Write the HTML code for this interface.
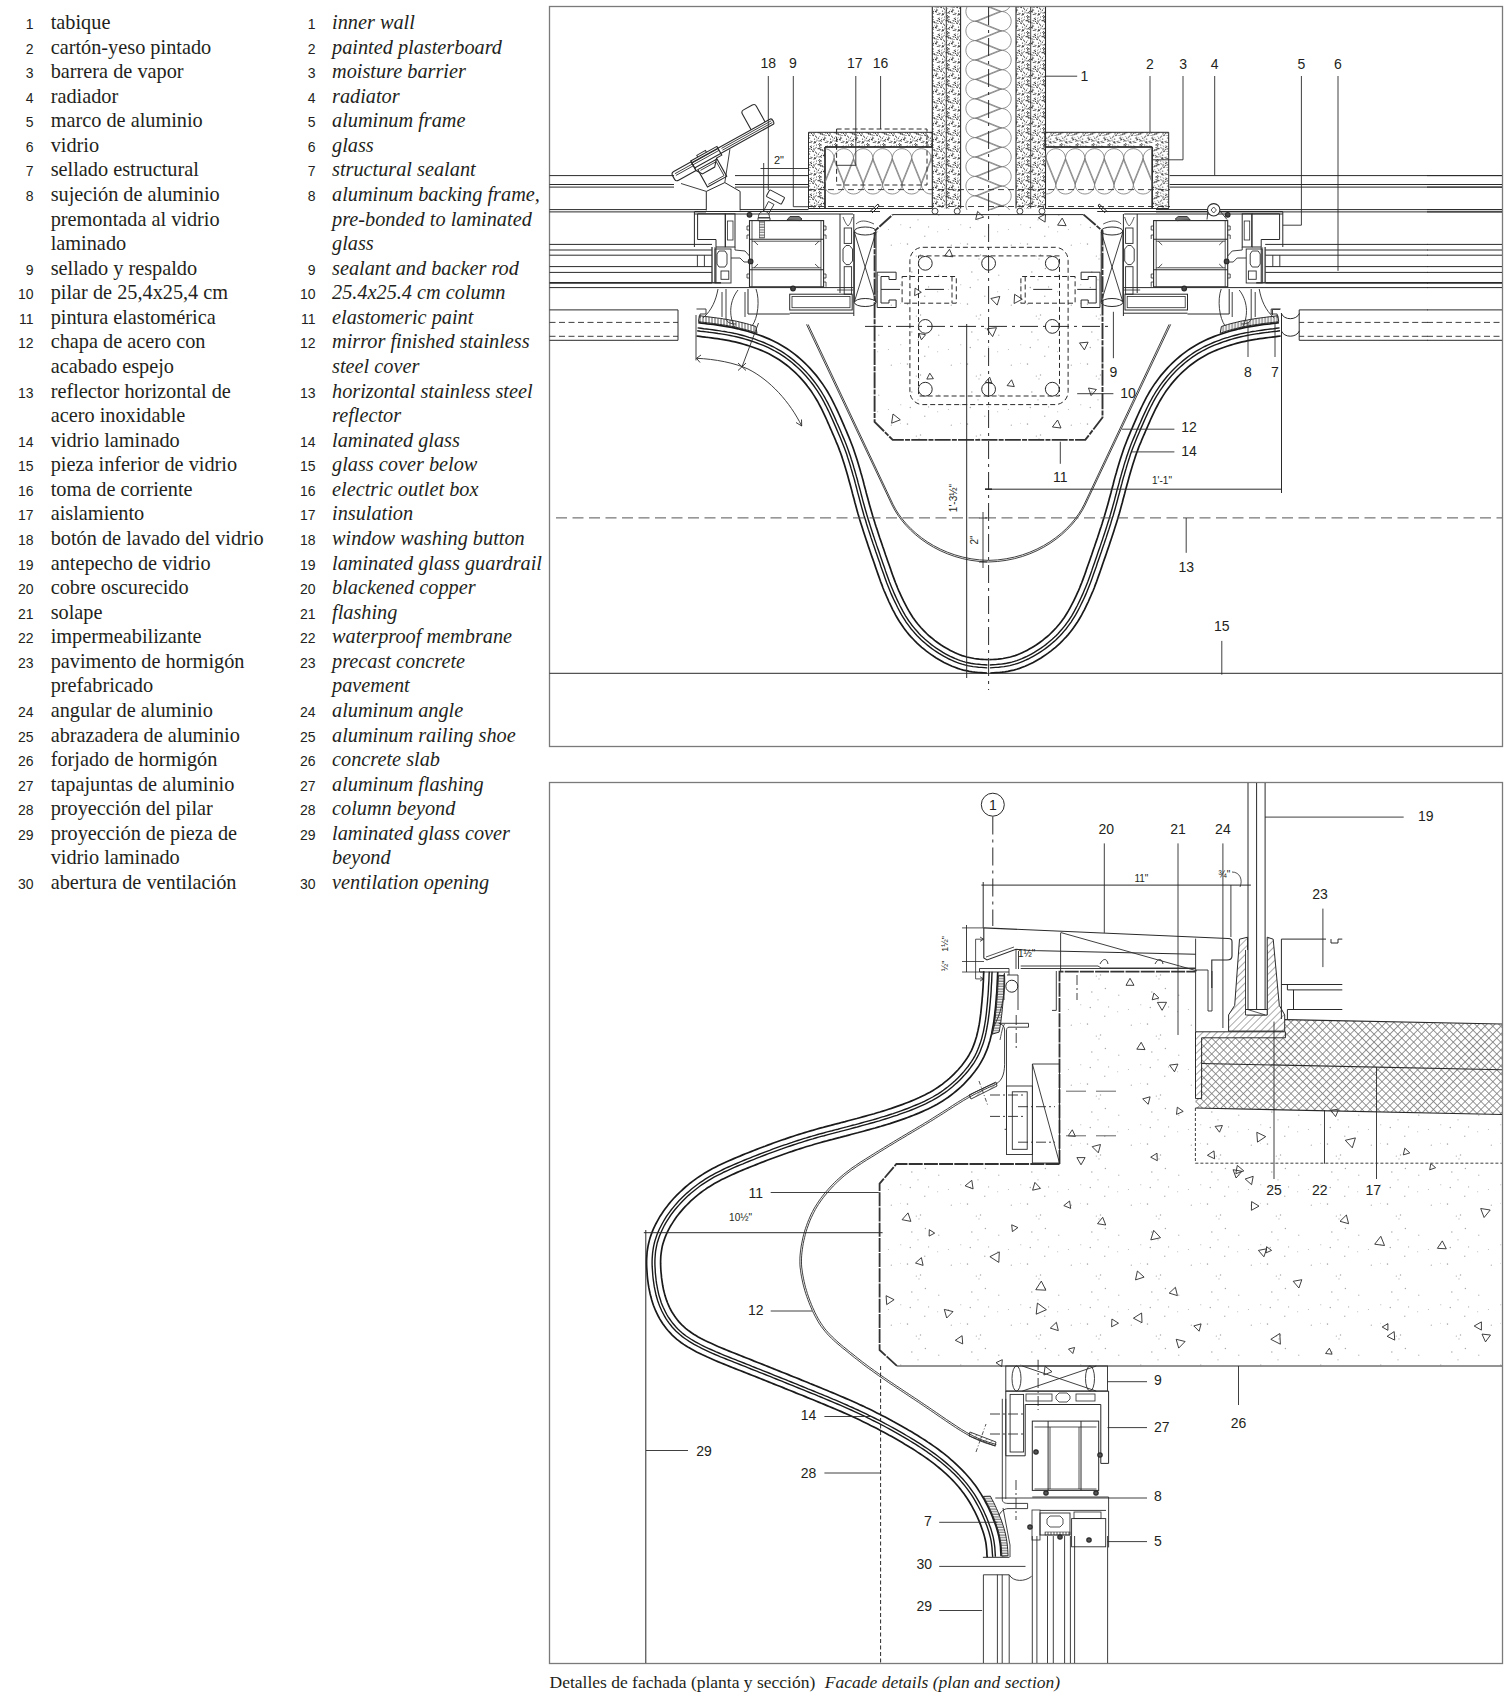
<!DOCTYPE html>
<html><head><meta charset="utf-8"><style>
html,body{margin:0;padding:0;background:#fff;}
svg{display:block}
.lg text.s{font-family:"Liberation Serif",serif;font-size:20.3px;fill:#231f20}
.lg text.i{font-style:italic}
.lg text.n{font-family:"Liberation Sans",sans-serif;font-size:14px;fill:#231f20;text-anchor:end}
.lb{font-family:"Liberation Sans",sans-serif;fill:#231f20}
.cap{font-family:"Liberation Serif",serif;font-size:17.5px;fill:#231f20}
</style></head>
<body><svg width="1512" height="1702" viewBox="0 0 1512 1702">
<defs>
<pattern id="stip" width="16" height="16" patternUnits="userSpaceOnUse"><circle cx="3.8" cy="8.7" r="0.48" fill="#333"/><circle cx="9.7" cy="10.0" r="0.37" fill="#333"/><circle cx="0.2" cy="13.4" r="0.44" fill="#333"/><circle cx="3.7" cy="15.9" r="0.51" fill="#333"/><circle cx="13.4" cy="7.6" r="0.57" fill="#333"/><circle cx="2.4" cy="10.2" r="0.65" fill="#333"/><circle cx="8.4" cy="11.9" r="0.58" fill="#333"/><circle cx="1.0" cy="12.1" r="0.56" fill="#333"/><circle cx="4.8" cy="0.5" r="0.65" fill="#333"/><circle cx="7.6" cy="11.5" r="0.66" fill="#333"/><circle cx="11.4" cy="14.7" r="0.49" fill="#333"/><circle cx="12.8" cy="7.1" r="0.68" fill="#333"/><circle cx="14.1" cy="1.6" r="0.40" fill="#333"/><circle cx="3.5" cy="15.4" r="0.50" fill="#333"/><circle cx="10.0" cy="4.8" r="0.53" fill="#333"/><circle cx="6.2" cy="5.6" r="0.55" fill="#333"/><circle cx="9.3" cy="14.5" r="0.59" fill="#333"/><circle cx="14.9" cy="13.7" r="0.70" fill="#333"/><circle cx="10.7" cy="2.6" r="0.65" fill="#333"/><circle cx="15.4" cy="14.5" r="0.55" fill="#333"/><circle cx="11.4" cy="3.4" r="0.64" fill="#333"/><circle cx="9.2" cy="4.6" r="0.37" fill="#333"/><circle cx="13.7" cy="15.8" r="0.38" fill="#333"/><circle cx="12.8" cy="6.6" r="0.40" fill="#333"/><circle cx="4.7" cy="12.3" r="0.66" fill="#333"/><circle cx="0.7" cy="9.8" r="0.37" fill="#333"/><circle cx="11.5" cy="5.3" r="0.66" fill="#333"/><circle cx="15.7" cy="8.1" r="0.70" fill="#333"/><circle cx="5.0" cy="1.2" r="0.56" fill="#333"/><circle cx="0.5" cy="3.2" r="0.49" fill="#333"/><circle cx="9.8" cy="2.5" r="0.36" fill="#333"/><circle cx="13.9" cy="5.0" r="0.69" fill="#333"/><circle cx="14.3" cy="6.0" r="0.51" fill="#333"/><circle cx="8.3" cy="10.3" r="0.56" fill="#333"/><circle cx="8.9" cy="9.9" r="0.68" fill="#333"/><circle cx="8.1" cy="6.9" r="0.60" fill="#333"/><circle cx="3.8" cy="4.8" r="0.69" fill="#333"/><circle cx="8.3" cy="8.8" r="0.35" fill="#333"/><circle cx="6.6" cy="9.3" r="0.36" fill="#333"/><circle cx="9.9" cy="10.1" r="0.37" fill="#333"/><circle cx="10.0" cy="7.5" r="0.59" fill="#333"/><circle cx="5.6" cy="11.3" r="0.61" fill="#333"/><circle cx="0.4" cy="1.0" r="0.59" fill="#333"/><circle cx="15.4" cy="4.0" r="0.51" fill="#333"/><circle cx="9.5" cy="5.1" r="0.48" fill="#333"/><circle cx="5.0" cy="5.9" r="0.56" fill="#333"/><circle cx="4.8" cy="6.0" r="0.62" fill="#333"/><circle cx="0.4" cy="9.1" r="0.61" fill="#333"/><circle cx="5.0" cy="3.6" r="0.63" fill="#333"/><circle cx="3.8" cy="3.0" r="0.50" fill="#333"/><circle cx="11.2" cy="1.6" r="0.46" fill="#333"/><circle cx="5.3" cy="13.3" r="0.50" fill="#333"/><circle cx="13.7" cy="2.7" r="0.47" fill="#333"/><circle cx="10.4" cy="14.2" r="0.51" fill="#333"/><circle cx="3.6" cy="1.9" r="0.54" fill="#333"/><circle cx="3.1" cy="12.9" r="0.64" fill="#333"/><circle cx="2.9" cy="4.5" r="0.63" fill="#333"/><circle cx="10.3" cy="12.9" r="0.47" fill="#333"/><circle cx="2.1" cy="4.7" r="0.63" fill="#333"/><circle cx="4.3" cy="5.5" r="0.50" fill="#333"/><circle cx="6.7" cy="6.6" r="0.67" fill="#333"/><circle cx="2.5" cy="0.1" r="0.68" fill="#333"/><circle cx="14.1" cy="15.8" r="0.50" fill="#333"/><circle cx="15.2" cy="14.8" r="0.43" fill="#333"/><circle cx="11.9" cy="13.4" r="0.58" fill="#333"/><circle cx="8.3" cy="4.6" r="0.47" fill="#333"/><circle cx="3.6" cy="1.1" r="0.56" fill="#333"/><circle cx="4.6" cy="13.0" r="0.37" fill="#333"/><circle cx="14.5" cy="11.1" r="0.67" fill="#333"/><circle cx="14.3" cy="14.4" r="0.55" fill="#333"/></pattern>
<pattern id="spar" width="60" height="60" patternUnits="userSpaceOnUse"><circle cx="0.8" cy="44.7" r="0.55" fill="#aaa"/><circle cx="18.0" cy="39.8" r="0.66" fill="#aaa"/><circle cx="24.8" cy="56.3" r="0.68" fill="#aaa"/><circle cx="20.5" cy="15.1" r="0.76" fill="#aaa"/><circle cx="28.6" cy="46.9" r="0.61" fill="#aaa"/><circle cx="11.8" cy="32.1" r="0.75" fill="#aaa"/><circle cx="10.3" cy="47.5" r="0.78" fill="#aaa"/><circle cx="48.4" cy="49.4" r="0.50" fill="#aaa"/><circle cx="37.7" cy="51.8" r="0.51" fill="#aaa"/><circle cx="16.3" cy="16.1" r="0.66" fill="#aaa"/><circle cx="25.4" cy="28.4" r="0.73" fill="#aaa"/><circle cx="0.1" cy="3.3" r="0.54" fill="#aaa"/><circle cx="7.5" cy="4.1" r="0.79" fill="#aaa"/><circle cx="51.3" cy="5.2" r="0.65" fill="#aaa"/><circle cx="19.0" cy="18.9" r="0.61" fill="#aaa"/><circle cx="38.8" cy="35.2" r="0.61" fill="#aaa"/></pattern>
<pattern id="xh" width="5.6" height="5.6" patternUnits="userSpaceOnUse" patternTransform="rotate(45)"><path d="M0 0.4H5.6M0.4 0V5.6" stroke="#7a7a7a" stroke-width="0.85"/></pattern>
<pattern id="dh" width="5" height="5" patternUnits="userSpaceOnUse" patternTransform="rotate(45)"><path d="M0 0L0 5" stroke="#444" stroke-width="0.9"/></pattern>
<pattern id="vh" width="3" height="6" patternUnits="userSpaceOnUse"><path d="M1 0L1 6" stroke="#444" stroke-width="0.9"/></pattern>
<pattern id="hh" width="6" height="2.6" patternUnits="userSpaceOnUse"><path d="M0 1L6 1" stroke="#444" stroke-width="0.9"/></pattern>
</defs>
<g class="lg">
<text class="n" x="33.5" y="29.00">1</text>
<text class="s" x="50.7" y="29.00">tabique</text>
<text class="n" x="315.5" y="29.00">1</text>
<text class="s i" x="332" y="29.00">inner wall</text>
<text class="n" x="33.5" y="53.57">2</text>
<text class="s" x="50.7" y="53.57">cartón-yeso pintado</text>
<text class="n" x="315.5" y="53.57">2</text>
<text class="s i" x="332" y="53.57">painted plasterboard</text>
<text class="n" x="33.5" y="78.14">3</text>
<text class="s" x="50.7" y="78.14">barrera de vapor</text>
<text class="n" x="315.5" y="78.14">3</text>
<text class="s i" x="332" y="78.14">moisture barrier</text>
<text class="n" x="33.5" y="102.71">4</text>
<text class="s" x="50.7" y="102.71">radiador</text>
<text class="n" x="315.5" y="102.71">4</text>
<text class="s i" x="332" y="102.71">radiator</text>
<text class="n" x="33.5" y="127.28">5</text>
<text class="s" x="50.7" y="127.28">marco de aluminio</text>
<text class="n" x="315.5" y="127.28">5</text>
<text class="s i" x="332" y="127.28">aluminum frame</text>
<text class="n" x="33.5" y="151.85">6</text>
<text class="s" x="50.7" y="151.85">vidrio</text>
<text class="n" x="315.5" y="151.85">6</text>
<text class="s i" x="332" y="151.85">glass</text>
<text class="n" x="33.5" y="176.42">7</text>
<text class="s" x="50.7" y="176.42">sellado estructural</text>
<text class="n" x="315.5" y="176.42">7</text>
<text class="s i" x="332" y="176.42">structural sealant</text>
<text class="n" x="33.5" y="200.99">8</text>
<text class="s" x="50.7" y="200.99">sujeción de aluminio</text>
<text class="n" x="315.5" y="200.99">8</text>
<text class="s i" x="332" y="200.99">aluminum backing frame,</text>
<text class="s" x="50.7" y="225.56">premontada al vidrio</text>
<text class="s i" x="332" y="225.56">pre-bonded to laminated</text>
<text class="s" x="50.7" y="250.13">laminado</text>
<text class="s i" x="332" y="250.13">glass</text>
<text class="n" x="33.5" y="274.70">9</text>
<text class="s" x="50.7" y="274.70">sellado y respaldo</text>
<text class="n" x="315.5" y="274.70">9</text>
<text class="s i" x="332" y="274.70">sealant and backer rod</text>
<text class="n" x="33.5" y="299.27">10</text>
<text class="s" x="50.7" y="299.27">pilar de 25,4x25,4 cm</text>
<text class="n" x="315.5" y="299.27">10</text>
<text class="s i" x="332" y="299.27">25.4x25.4 cm column</text>
<text class="n" x="33.5" y="323.84">11</text>
<text class="s" x="50.7" y="323.84">pintura elastomérica</text>
<text class="n" x="315.5" y="323.84">11</text>
<text class="s i" x="332" y="323.84">elastomeric paint</text>
<text class="n" x="33.5" y="348.41">12</text>
<text class="s" x="50.7" y="348.41">chapa de acero con</text>
<text class="n" x="315.5" y="348.41">12</text>
<text class="s i" x="332" y="348.41">mirror finished stainless</text>
<text class="s" x="50.7" y="372.98">acabado espejo</text>
<text class="s i" x="332" y="372.98">steel cover</text>
<text class="n" x="33.5" y="397.55">13</text>
<text class="s" x="50.7" y="397.55">reflector horizontal de</text>
<text class="n" x="315.5" y="397.55">13</text>
<text class="s i" x="332" y="397.55">horizontal stainless steel</text>
<text class="s" x="50.7" y="422.12">acero inoxidable</text>
<text class="s i" x="332" y="422.12">reflector</text>
<text class="n" x="33.5" y="446.69">14</text>
<text class="s" x="50.7" y="446.69">vidrio laminado</text>
<text class="n" x="315.5" y="446.69">14</text>
<text class="s i" x="332" y="446.69">laminated glass</text>
<text class="n" x="33.5" y="471.26">15</text>
<text class="s" x="50.7" y="471.26">pieza inferior de vidrio</text>
<text class="n" x="315.5" y="471.26">15</text>
<text class="s i" x="332" y="471.26">glass cover below</text>
<text class="n" x="33.5" y="495.83">16</text>
<text class="s" x="50.7" y="495.83">toma de corriente</text>
<text class="n" x="315.5" y="495.83">16</text>
<text class="s i" x="332" y="495.83">electric outlet box</text>
<text class="n" x="33.5" y="520.40">17</text>
<text class="s" x="50.7" y="520.40">aislamiento</text>
<text class="n" x="315.5" y="520.40">17</text>
<text class="s i" x="332" y="520.40">insulation</text>
<text class="n" x="33.5" y="544.97">18</text>
<text class="s" x="50.7" y="544.97">botón de lavado del vidrio</text>
<text class="n" x="315.5" y="544.97">18</text>
<text class="s i" x="332" y="544.97">window washing button</text>
<text class="n" x="33.5" y="569.54">19</text>
<text class="s" x="50.7" y="569.54">antepecho de vidrio</text>
<text class="n" x="315.5" y="569.54">19</text>
<text class="s i" x="332" y="569.54">laminated glass guardrail</text>
<text class="n" x="33.5" y="594.11">20</text>
<text class="s" x="50.7" y="594.11">cobre oscurecido</text>
<text class="n" x="315.5" y="594.11">20</text>
<text class="s i" x="332" y="594.11">blackened copper</text>
<text class="n" x="33.5" y="618.68">21</text>
<text class="s" x="50.7" y="618.68">solape</text>
<text class="n" x="315.5" y="618.68">21</text>
<text class="s i" x="332" y="618.68">flashing</text>
<text class="n" x="33.5" y="643.25">22</text>
<text class="s" x="50.7" y="643.25">impermeabilizante</text>
<text class="n" x="315.5" y="643.25">22</text>
<text class="s i" x="332" y="643.25">waterproof membrane</text>
<text class="n" x="33.5" y="667.82">23</text>
<text class="s" x="50.7" y="667.82">pavimento de hormigón</text>
<text class="n" x="315.5" y="667.82">23</text>
<text class="s i" x="332" y="667.82">precast concrete</text>
<text class="s" x="50.7" y="692.39">prefabricado</text>
<text class="s i" x="332" y="692.39">pavement</text>
<text class="n" x="33.5" y="716.96">24</text>
<text class="s" x="50.7" y="716.96">angular de aluminio</text>
<text class="n" x="315.5" y="716.96">24</text>
<text class="s i" x="332" y="716.96">aluminum angle</text>
<text class="n" x="33.5" y="741.53">25</text>
<text class="s" x="50.7" y="741.53">abrazadera de aluminio</text>
<text class="n" x="315.5" y="741.53">25</text>
<text class="s i" x="332" y="741.53">aluminum railing shoe</text>
<text class="n" x="33.5" y="766.10">26</text>
<text class="s" x="50.7" y="766.10">forjado de hormigón</text>
<text class="n" x="315.5" y="766.10">26</text>
<text class="s i" x="332" y="766.10">concrete slab</text>
<text class="n" x="33.5" y="790.67">27</text>
<text class="s" x="50.7" y="790.67">tapajuntas de aluminio</text>
<text class="n" x="315.5" y="790.67">27</text>
<text class="s i" x="332" y="790.67">aluminum flashing</text>
<text class="n" x="33.5" y="815.24">28</text>
<text class="s" x="50.7" y="815.24">proyección del pilar</text>
<text class="n" x="315.5" y="815.24">28</text>
<text class="s i" x="332" y="815.24">column beyond</text>
<text class="n" x="33.5" y="839.81">29</text>
<text class="s" x="50.7" y="839.81">proyección de pieza de</text>
<text class="n" x="315.5" y="839.81">29</text>
<text class="s i" x="332" y="839.81">laminated glass cover</text>
<text class="s" x="50.7" y="864.38">vidrio laminado</text>
<text class="s i" x="332" y="864.38">beyond</text>
<text class="n" x="33.5" y="888.95">30</text>
<text class="s" x="50.7" y="888.95">abertura de ventilación</text>
<text class="n" x="315.5" y="888.95">30</text>
<text class="s i" x="332" y="888.95">ventilation opening</text>
</g>
<rect x="549.5" y="6.5" width="953" height="740" fill="none" stroke="#7a7a7a" stroke-width="1.3"/><rect x="549.5" y="782.5" width="953" height="881" fill="none" stroke="#7a7a7a" stroke-width="1.3"/><text class="cap" x="549.5" y="1687.6">Detalles de fachada (planta y sección)<tspan font-style="italic" dx="9.6">Facade details (plan and section)</tspan></text><clipPath id="cw"><rect x="932" y="7" width="114" height="203"/></clipPath><rect x="932.3" y="7" width="28.3" height="201.5" fill="url(#stip)"/><rect x="1016" y="7" width="29.5" height="201.5" fill="url(#stip)"/><line x1="932.3" y1="7.0" x2="932.3" y2="208.5" stroke="#2a2a2a" stroke-width="1.1"/><line x1="946.3" y1="7.0" x2="946.3" y2="208.5" stroke="#2a2a2a" stroke-width="0.9"/><line x1="960.6" y1="7.0" x2="960.6" y2="208.5" stroke="#2a2a2a" stroke-width="1.1"/><line x1="1016.0" y1="7.0" x2="1016.0" y2="208.5" stroke="#2a2a2a" stroke-width="1.1"/><line x1="1030.7" y1="7.0" x2="1030.7" y2="208.5" stroke="#2a2a2a" stroke-width="0.9"/><line x1="1045.5" y1="7.0" x2="1045.5" y2="208.5" stroke="#2a2a2a" stroke-width="1.1"/><g clip-path="url(#cw)"><path d="M1001.5 -7.9L979.2 -16.9A9.7 9.7 0 1 0 979.2 1.1ZM975.6 1.8L997.9 10.8A9.7 9.7 0 1 0 997.9 -7.2ZM1001.5 11.5L979.2 2.5A9.7 9.7 0 1 0 979.2 20.5ZM975.6 21.2L997.9 30.2A9.7 9.7 0 1 0 997.9 12.2ZM1001.5 30.9L979.2 21.9A9.7 9.7 0 1 0 979.2 39.9ZM975.6 40.6L997.9 49.6A9.7 9.7 0 1 0 997.9 31.6ZM1001.5 50.3L979.2 41.3A9.7 9.7 0 1 0 979.2 59.3ZM975.6 60.0L997.9 69.0A9.7 9.7 0 1 0 997.9 51.0ZM1001.5 69.7L979.2 60.7A9.7 9.7 0 1 0 979.2 78.7ZM975.6 79.4L997.9 88.4A9.7 9.7 0 1 0 997.9 70.4ZM1001.5 89.1L979.2 80.1A9.7 9.7 0 1 0 979.2 98.1ZM975.6 98.8L997.9 107.8A9.7 9.7 0 1 0 997.9 89.8ZM1001.5 108.5L979.2 99.5A9.7 9.7 0 1 0 979.2 117.5ZM975.6 118.2L997.9 127.2A9.7 9.7 0 1 0 997.9 109.2ZM1001.5 127.9L979.2 118.9A9.7 9.7 0 1 0 979.2 136.9ZM975.6 137.6L997.9 146.6A9.7 9.7 0 1 0 997.9 128.6ZM1001.5 147.3L979.2 138.3A9.7 9.7 0 1 0 979.2 156.3ZM975.6 157.0L997.9 166.0A9.7 9.7 0 1 0 997.9 148.0ZM1001.5 166.7L979.2 157.7A9.7 9.7 0 1 0 979.2 175.7ZM975.6 176.4L997.9 185.4A9.7 9.7 0 1 0 997.9 167.4ZM1001.5 186.1L979.2 177.1A9.7 9.7 0 1 0 979.2 195.1ZM975.6 195.8L997.9 204.8A9.7 9.7 0 1 0 997.9 186.8ZM1001.5 205.5L979.2 196.5A9.7 9.7 0 1 0 979.2 214.5ZM975.6 215.2L997.9 224.2A9.7 9.7 0 1 0 997.9 206.2ZM1001.5 224.9L979.2 215.9A9.7 9.7 0 1 0 979.2 233.9ZM975.6 234.6L997.9 243.6A9.7 9.7 0 1 0 997.9 225.6Z" fill="none" stroke="#777" stroke-width="0.8"/></g><circle cx="935.0" cy="211.2" r="3" fill="none" stroke="#2a2a2a" stroke-width="0.9"/><circle cx="957.2" cy="211.2" r="3" fill="none" stroke="#2a2a2a" stroke-width="0.9"/><circle cx="1019.9" cy="211.2" r="3" fill="none" stroke="#2a2a2a" stroke-width="0.9"/><circle cx="1042.0" cy="211.2" r="3" fill="none" stroke="#2a2a2a" stroke-width="0.9"/><path d="M808.5 132.3H932.3V147H825V208.5H808.5Z" fill="url(#stip)" stroke="#2a2a2a" stroke-width="1"/><line x1="825.0" y1="147.0" x2="932.3" y2="147.0" stroke="#2a2a2a" stroke-width="1.4"/><line x1="825.0" y1="147.0" x2="825.0" y2="208.5" stroke="#2a2a2a" stroke-width="1.4"/><clipPath id="ci0"><rect x="825" y="147" width="107" height="62"/></clipPath><g clip-path="url(#ci0)"><path d="M824.4 184.3L815.4 162.0A9.7 9.7 0 1 1 833.4 162.0ZM834.1 158.4L843.1 180.7A9.7 9.7 0 1 1 825.1 180.7ZM843.8 184.3L834.8 162.0A9.7 9.7 0 1 1 852.8 162.0ZM853.5 158.4L862.5 180.7A9.7 9.7 0 1 1 844.5 180.7ZM863.2 184.3L854.2 162.0A9.7 9.7 0 1 1 872.2 162.0ZM872.9 158.4L881.9 180.7A9.7 9.7 0 1 1 863.9 180.7ZM882.6 184.3L873.6 162.0A9.7 9.7 0 1 1 891.6 162.0ZM892.3 158.4L901.3 180.7A9.7 9.7 0 1 1 883.3 180.7ZM902.0 184.3L893.0 162.0A9.7 9.7 0 1 1 911.0 162.0ZM911.7 158.4L920.7 180.7A9.7 9.7 0 1 1 902.7 180.7ZM921.4 184.3L912.4 162.0A9.7 9.7 0 1 1 930.4 162.0ZM931.1 158.4L940.1 180.7A9.7 9.7 0 1 1 922.1 180.7ZM940.8 184.3L931.8 162.0A9.7 9.7 0 1 1 949.8 162.0ZM950.5 158.4L959.5 180.7A9.7 9.7 0 1 1 941.5 180.7Z" fill="none" stroke="#777" stroke-width="0.8"/></g><line x1="808.5" y1="208.5" x2="932.3" y2="208.5" stroke="#2a2a2a" stroke-width="1"/><g transform="translate(1977.2,0) scale(-1,1)"><path d="M808.5 132.3H932.3V147H825V208.5H808.5Z" fill="url(#stip)" stroke="#2a2a2a" stroke-width="1"/><line x1="825.0" y1="147.0" x2="932.3" y2="147.0" stroke="#2a2a2a" stroke-width="1.4"/><line x1="825.0" y1="147.0" x2="825.0" y2="208.5" stroke="#2a2a2a" stroke-width="1.4"/><clipPath id="ci1"><rect x="825" y="147" width="107" height="62"/></clipPath><g clip-path="url(#ci1)"><path d="M824.4 184.3L815.4 162.0A9.7 9.7 0 1 1 833.4 162.0ZM834.1 158.4L843.1 180.7A9.7 9.7 0 1 1 825.1 180.7ZM843.8 184.3L834.8 162.0A9.7 9.7 0 1 1 852.8 162.0ZM853.5 158.4L862.5 180.7A9.7 9.7 0 1 1 844.5 180.7ZM863.2 184.3L854.2 162.0A9.7 9.7 0 1 1 872.2 162.0ZM872.9 158.4L881.9 180.7A9.7 9.7 0 1 1 863.9 180.7ZM882.6 184.3L873.6 162.0A9.7 9.7 0 1 1 891.6 162.0ZM892.3 158.4L901.3 180.7A9.7 9.7 0 1 1 883.3 180.7ZM902.0 184.3L893.0 162.0A9.7 9.7 0 1 1 911.0 162.0ZM911.7 158.4L920.7 180.7A9.7 9.7 0 1 1 902.7 180.7ZM921.4 184.3L912.4 162.0A9.7 9.7 0 1 1 930.4 162.0ZM931.1 158.4L940.1 180.7A9.7 9.7 0 1 1 922.1 180.7ZM940.8 184.3L931.8 162.0A9.7 9.7 0 1 1 949.8 162.0ZM950.5 158.4L959.5 180.7A9.7 9.7 0 1 1 941.5 180.7Z" fill="none" stroke="#777" stroke-width="0.8"/></g><line x1="808.5" y1="208.5" x2="932.3" y2="208.5" stroke="#2a2a2a" stroke-width="1"/></g><rect x="836.6" y="129.0" width="90.4" height="56.0" fill="none" stroke="#2a2a2a" stroke-width="1" stroke-dasharray="5 3"/><line x1="808.0" y1="189.6" x2="1170.0" y2="189.6" stroke="#2a2a2a" stroke-width="0.9" stroke-dasharray="6 4"/><line x1="808.0" y1="206.5" x2="1170.0" y2="206.5" stroke="#2a2a2a" stroke-width="0.9" stroke-dasharray="6 4"/><line x1="549.5" y1="175.6" x2="674.0" y2="175.6" stroke="#2a2a2a" stroke-width="1"/><line x1="735.0" y1="175.6" x2="808.5" y2="175.6" stroke="#2a2a2a" stroke-width="1"/><line x1="1169.6" y1="175.6" x2="1502.0" y2="175.6" stroke="#2a2a2a" stroke-width="1"/><line x1="549.5" y1="184.5" x2="674.0" y2="184.5" stroke="#2a2a2a" stroke-width="1"/><line x1="735.0" y1="184.5" x2="808.5" y2="184.5" stroke="#2a2a2a" stroke-width="1"/><line x1="1169.6" y1="184.5" x2="1502.0" y2="184.5" stroke="#2a2a2a" stroke-width="1"/><line x1="549.5" y1="187.1" x2="674.0" y2="187.1" stroke="#2a2a2a" stroke-width="1"/><line x1="735.0" y1="187.1" x2="808.5" y2="187.1" stroke="#2a2a2a" stroke-width="1"/><line x1="1169.6" y1="187.1" x2="1502.0" y2="187.1" stroke="#2a2a2a" stroke-width="1"/><line x1="549.5" y1="209.6" x2="706.0" y2="209.6" stroke="#2a2a2a" stroke-width="1"/><line x1="740.0" y1="209.6" x2="808.5" y2="209.6" stroke="#2a2a2a" stroke-width="1"/><line x1="1156.0" y1="209.6" x2="1502.0" y2="209.6" stroke="#2a2a2a" stroke-width="1"/><line x1="549.5" y1="211.9" x2="706.0" y2="211.9" stroke="#2a2a2a" stroke-width="1"/><line x1="1156.0" y1="211.9" x2="1502.0" y2="211.9" stroke="#2a2a2a" stroke-width="1"/><line x1="549.5" y1="244.4" x2="712.0" y2="244.4" stroke="#2a2a2a" stroke-width="1"/><line x1="549.5" y1="250.0" x2="712.0" y2="250.0" stroke="#2a2a2a" stroke-width="1"/><line x1="549.5" y1="255.2" x2="712.0" y2="255.2" stroke="#2a2a2a" stroke-width="1"/><line x1="549.5" y1="266.6" x2="712.0" y2="266.6" stroke="#2a2a2a" stroke-width="1"/><line x1="549.5" y1="272.4" x2="712.0" y2="272.4" stroke="#2a2a2a" stroke-width="1"/><line x1="549.5" y1="282.8" x2="712.0" y2="282.8" stroke="#2a2a2a" stroke-width="1.8"/><line x1="549.5" y1="287.6" x2="853.4" y2="287.6" stroke="#2a2a2a" stroke-width="1"/><path d="M549.5 309.9H678V340.3H549.5" fill="none" stroke="#2a2a2a" stroke-width="1" /><line x1="549.5" y1="322.4" x2="678.0" y2="322.4" stroke="#2a2a2a" stroke-width="0.9" stroke-dasharray="6 3.5"/><line x1="549.5" y1="336.3" x2="678.0" y2="336.3" stroke="#2a2a2a" stroke-width="0.9" stroke-dasharray="6 3.5"/><line x1="694.4" y1="211.5" x2="880.0" y2="211.5" stroke="#2a2a2a" stroke-width="1"/><line x1="694.4" y1="214.0" x2="853.0" y2="214.0" stroke="#2a2a2a" stroke-width="1"/><path d="M870 211.5L878 204L879 206L872 213" fill="none" stroke="#2a2a2a" stroke-width="1" /><line x1="694.4" y1="212.0" x2="694.4" y2="247.0" stroke="#2a2a2a" stroke-width="1"/><path d="M697.6 213.8H725.3V247H716V239.5H697.6Z" fill="none" stroke="#2a2a2a" stroke-width="1" /><rect x="725.3" y="213.8" width="9.7" height="33.2" fill="none" stroke="#2a2a2a" stroke-width="1"/><rect x="727.5" y="221.0" width="5.5" height="19.0" fill="none" stroke="#2a2a2a" stroke-width="0.8"/><path d="M716 247V283 M712 247V283" fill="none" stroke="#2a2a2a" stroke-width="0.9" /><rect x="711" y="247" width="5" height="35" fill="url(#vh)" stroke="none"/><path d="M717 254L719 251H725L727 254V264L725 267H719L717 264Z" fill="none" stroke="#2a2a2a" stroke-width="0.9" /><rect x="715.0" y="249.0" width="16.0" height="34.0" fill="none" stroke="#2a2a2a" stroke-width="0.9"/><rect x="721.0" y="271.0" width="7.8" height="8.3" fill="none" stroke="#2a2a2a" stroke-width="0.9"/><line x1="697.4" y1="255.2" x2="697.4" y2="266.6" stroke="#2a2a2a" stroke-width="0.9"/><line x1="704.4" y1="255.2" x2="704.4" y2="266.6" stroke="#2a2a2a" stroke-width="0.9"/><line x1="712.0" y1="282.8" x2="721.0" y2="282.8" stroke="#2a2a2a" stroke-width="1.4"/><path d="M735 247V250L745 251L749.5 256" fill="none" stroke="#2a2a2a" stroke-width="0.9" /><path d="M731 258H740L744 262L749.5 262" fill="none" stroke="#2a2a2a" stroke-width="0.9" /><rect x="749.5" y="220.6" width="74.1" height="66.2" fill="none" stroke="#2a2a2a" stroke-width="1.1"/><line x1="749.5" y1="239.2" x2="823.6" y2="239.2" stroke="#2a2a2a" stroke-width="1.1"/><line x1="752.0" y1="241.2" x2="821.0" y2="241.2" stroke="#2a2a2a" stroke-width="0.8"/><line x1="749.5" y1="269.8" x2="823.6" y2="269.8" stroke="#2a2a2a" stroke-width="1.1"/><line x1="752.0" y1="267.8" x2="821.0" y2="267.8" stroke="#2a2a2a" stroke-width="0.8"/><line x1="752.0" y1="220.6" x2="752.0" y2="286.8" stroke="#2a2a2a" stroke-width="0.8"/><line x1="821.0" y1="220.6" x2="821.0" y2="286.8" stroke="#2a2a2a" stroke-width="0.8"/><path d="M749.5 226H747V230H749.5M749.5 235H747V239M823.6 226H826V230H823.6M823.6 235H826V239" fill="none" stroke="#2a2a2a" stroke-width="0.8" /><path d="M749.5 274H747V278H749.5M823.6 274H826V278H823.6M823.6 282H826V286.8" fill="none" stroke="#2a2a2a" stroke-width="0.8" /><path d="M754 241.2L758 245M819 241.2L815 245M754 267.8L758 264M819 267.8L815 264" fill="none" stroke="#2a2a2a" stroke-width="0.8" /><circle cx="749.5" cy="214.8" r="2.3" fill="#444" stroke="#2a2a2a" stroke-width="1.2"/><circle cx="750.6" cy="261.4" r="2.3" fill="#444" stroke="#2a2a2a" stroke-width="1.2"/><circle cx="793.0" cy="288.5" r="2.3" fill="#444" stroke="#2a2a2a" stroke-width="1.2"/><path d="M787 220L790 216.5H799L802 219L800 220.6Z" fill="#777" stroke="#2a2a2a" stroke-width="0.9" /><line x1="840.0" y1="214.0" x2="840.0" y2="293.0" stroke="#2a2a2a" stroke-width="1"/><line x1="853.8" y1="214.0" x2="853.8" y2="316.0" stroke="#2a2a2a" stroke-width="1"/><rect x="844.2" y="228.0" width="7.4" height="15.4" fill="none" stroke="#2a2a2a" stroke-width="0.9"/><path d="M843 249L846 245.5H849.5L852.5 249V261L849.5 264.6H846L843 261Z" fill="none" stroke="#2a2a2a" stroke-width="0.9" /><rect x="844.2" y="266.7" width="7.4" height="27.5" fill="none" stroke="#2a2a2a" stroke-width="0.9"/><path d="M843 217C845 222 846 224 848 226C850 224 851 222 852.5 217" fill="none" stroke="#2a2a2a" stroke-width="0.8" /><rect x="789.7" y="294.2" width="62.5" height="15.8" fill="none" stroke="#2a2a2a" stroke-width="1"/><rect x="792.0" y="296.5" width="58.0" height="11.2" fill="none" stroke="#2a2a2a" stroke-width="0.8"/><line x1="789.7" y1="313.2" x2="853.8" y2="313.2" stroke="#2a2a2a" stroke-width="1"/><path d="M748 289V314H789.7" fill="none" stroke="#2a2a2a" stroke-width="1" /><path d="M745 292V317" fill="none" stroke="#2a2a2a" stroke-width="0.9" /><line x1="837.0" y1="290.0" x2="853.0" y2="290.0" stroke="#2a2a2a" stroke-width="0.8"/><rect x="854.3" y="232.0" width="21.7" height="70.0" fill="none" stroke="#2a2a2a" stroke-width="1"/><line x1="854.3" y1="232.0" x2="876.0" y2="302.0" stroke="#2a2a2a" stroke-width="0.9"/><line x1="876.0" y1="232.0" x2="854.3" y2="302.0" stroke="#2a2a2a" stroke-width="0.9"/><ellipse cx="865.2" cy="231" rx="10.8" ry="4" fill="#fff" stroke="#2a2a2a" stroke-width="1"/><ellipse cx="865.2" cy="302.5" rx="10.8" ry="4" fill="#fff" stroke="#2a2a2a" stroke-width="1"/><path d="M856 224C860 220 866 220 874 224" fill="none" stroke="#2a2a2a" stroke-width="0.8" /><path d="M718 289C716 300 712 310 703 318 M738 290C730 300 728 315 735 328 M756 289C760 300 758 318 752 326" fill="none" stroke="#2a2a2a" stroke-width="0.9" /><path d="M722 292V317 M726 289V318C726 322 730 324 736 324" fill="none" stroke="#2a2a2a" stroke-width="0.9" /><path d="M696.5 309 H706 V314 H700 V318" fill="none" stroke="#2a2a2a" stroke-width="0.9" /><g transform="translate(1977.2,0) scale(-1,1)"><line x1="549.5" y1="244.4" x2="712.0" y2="244.4" stroke="#2a2a2a" stroke-width="1"/><line x1="549.5" y1="250.0" x2="712.0" y2="250.0" stroke="#2a2a2a" stroke-width="1"/><line x1="549.5" y1="255.2" x2="712.0" y2="255.2" stroke="#2a2a2a" stroke-width="1"/><line x1="549.5" y1="266.6" x2="712.0" y2="266.6" stroke="#2a2a2a" stroke-width="1"/><line x1="549.5" y1="272.4" x2="712.0" y2="272.4" stroke="#2a2a2a" stroke-width="1"/><line x1="549.5" y1="282.8" x2="712.0" y2="282.8" stroke="#2a2a2a" stroke-width="1.8"/><line x1="549.5" y1="287.6" x2="853.4" y2="287.6" stroke="#2a2a2a" stroke-width="1"/><path d="M549.5 309.9H678V340.3H549.5" fill="none" stroke="#2a2a2a" stroke-width="1" /><line x1="549.5" y1="322.4" x2="678.0" y2="322.4" stroke="#2a2a2a" stroke-width="0.9" stroke-dasharray="6 3.5"/><line x1="549.5" y1="336.3" x2="678.0" y2="336.3" stroke="#2a2a2a" stroke-width="0.9" stroke-dasharray="6 3.5"/><line x1="694.4" y1="211.5" x2="880.0" y2="211.5" stroke="#2a2a2a" stroke-width="1"/><line x1="694.4" y1="214.0" x2="853.0" y2="214.0" stroke="#2a2a2a" stroke-width="1"/><path d="M870 211.5L878 204L879 206L872 213" fill="none" stroke="#2a2a2a" stroke-width="1" /><line x1="694.4" y1="212.0" x2="694.4" y2="247.0" stroke="#2a2a2a" stroke-width="1"/><path d="M697.6 213.8H725.3V247H716V239.5H697.6Z" fill="none" stroke="#2a2a2a" stroke-width="1" /><rect x="725.3" y="213.8" width="9.7" height="33.2" fill="none" stroke="#2a2a2a" stroke-width="1"/><rect x="727.5" y="221.0" width="5.5" height="19.0" fill="none" stroke="#2a2a2a" stroke-width="0.8"/><path d="M716 247V283 M712 247V283" fill="none" stroke="#2a2a2a" stroke-width="0.9" /><rect x="711" y="247" width="5" height="35" fill="url(#vh)" stroke="none"/><path d="M717 254L719 251H725L727 254V264L725 267H719L717 264Z" fill="none" stroke="#2a2a2a" stroke-width="0.9" /><rect x="715.0" y="249.0" width="16.0" height="34.0" fill="none" stroke="#2a2a2a" stroke-width="0.9"/><rect x="721.0" y="271.0" width="7.8" height="8.3" fill="none" stroke="#2a2a2a" stroke-width="0.9"/><line x1="697.4" y1="255.2" x2="697.4" y2="266.6" stroke="#2a2a2a" stroke-width="0.9"/><line x1="704.4" y1="255.2" x2="704.4" y2="266.6" stroke="#2a2a2a" stroke-width="0.9"/><line x1="712.0" y1="282.8" x2="721.0" y2="282.8" stroke="#2a2a2a" stroke-width="1.4"/><path d="M735 247V250L745 251L749.5 256" fill="none" stroke="#2a2a2a" stroke-width="0.9" /><path d="M731 258H740L744 262L749.5 262" fill="none" stroke="#2a2a2a" stroke-width="0.9" /><rect x="749.5" y="220.6" width="74.1" height="66.2" fill="none" stroke="#2a2a2a" stroke-width="1.1"/><line x1="749.5" y1="239.2" x2="823.6" y2="239.2" stroke="#2a2a2a" stroke-width="1.1"/><line x1="752.0" y1="241.2" x2="821.0" y2="241.2" stroke="#2a2a2a" stroke-width="0.8"/><line x1="749.5" y1="269.8" x2="823.6" y2="269.8" stroke="#2a2a2a" stroke-width="1.1"/><line x1="752.0" y1="267.8" x2="821.0" y2="267.8" stroke="#2a2a2a" stroke-width="0.8"/><line x1="752.0" y1="220.6" x2="752.0" y2="286.8" stroke="#2a2a2a" stroke-width="0.8"/><line x1="821.0" y1="220.6" x2="821.0" y2="286.8" stroke="#2a2a2a" stroke-width="0.8"/><path d="M749.5 226H747V230H749.5M749.5 235H747V239M823.6 226H826V230H823.6M823.6 235H826V239" fill="none" stroke="#2a2a2a" stroke-width="0.8" /><path d="M749.5 274H747V278H749.5M823.6 274H826V278H823.6M823.6 282H826V286.8" fill="none" stroke="#2a2a2a" stroke-width="0.8" /><path d="M754 241.2L758 245M819 241.2L815 245M754 267.8L758 264M819 267.8L815 264" fill="none" stroke="#2a2a2a" stroke-width="0.8" /><circle cx="749.5" cy="214.8" r="2.3" fill="#444" stroke="#2a2a2a" stroke-width="1.2"/><circle cx="750.6" cy="261.4" r="2.3" fill="#444" stroke="#2a2a2a" stroke-width="1.2"/><circle cx="793.0" cy="288.5" r="2.3" fill="#444" stroke="#2a2a2a" stroke-width="1.2"/><path d="M787 220L790 216.5H799L802 219L800 220.6Z" fill="#777" stroke="#2a2a2a" stroke-width="0.9" /><line x1="840.0" y1="214.0" x2="840.0" y2="293.0" stroke="#2a2a2a" stroke-width="1"/><line x1="853.8" y1="214.0" x2="853.8" y2="316.0" stroke="#2a2a2a" stroke-width="1"/><rect x="844.2" y="228.0" width="7.4" height="15.4" fill="none" stroke="#2a2a2a" stroke-width="0.9"/><path d="M843 249L846 245.5H849.5L852.5 249V261L849.5 264.6H846L843 261Z" fill="none" stroke="#2a2a2a" stroke-width="0.9" /><rect x="844.2" y="266.7" width="7.4" height="27.5" fill="none" stroke="#2a2a2a" stroke-width="0.9"/><path d="M843 217C845 222 846 224 848 226C850 224 851 222 852.5 217" fill="none" stroke="#2a2a2a" stroke-width="0.8" /><rect x="789.7" y="294.2" width="62.5" height="15.8" fill="none" stroke="#2a2a2a" stroke-width="1"/><rect x="792.0" y="296.5" width="58.0" height="11.2" fill="none" stroke="#2a2a2a" stroke-width="0.8"/><line x1="789.7" y1="313.2" x2="853.8" y2="313.2" stroke="#2a2a2a" stroke-width="1"/><path d="M748 289V314H789.7" fill="none" stroke="#2a2a2a" stroke-width="1" /><path d="M745 292V317" fill="none" stroke="#2a2a2a" stroke-width="0.9" /><line x1="837.0" y1="290.0" x2="853.0" y2="290.0" stroke="#2a2a2a" stroke-width="0.8"/><rect x="854.3" y="232.0" width="21.7" height="70.0" fill="none" stroke="#2a2a2a" stroke-width="1"/><line x1="854.3" y1="232.0" x2="876.0" y2="302.0" stroke="#2a2a2a" stroke-width="0.9"/><line x1="876.0" y1="232.0" x2="854.3" y2="302.0" stroke="#2a2a2a" stroke-width="0.9"/><ellipse cx="865.2" cy="231" rx="10.8" ry="4" fill="#fff" stroke="#2a2a2a" stroke-width="1"/><ellipse cx="865.2" cy="302.5" rx="10.8" ry="4" fill="#fff" stroke="#2a2a2a" stroke-width="1"/><path d="M856 224C860 220 866 220 874 224" fill="none" stroke="#2a2a2a" stroke-width="0.8" /><path d="M718 289C716 300 712 310 703 318 M738 290C730 300 728 315 735 328 M756 289C760 300 758 318 752 326" fill="none" stroke="#2a2a2a" stroke-width="0.9" /><path d="M722 292V317 M726 289V318C726 322 730 324 736 324" fill="none" stroke="#2a2a2a" stroke-width="0.9" /><path d="M696.5 309 H706 V314 H700 V318" fill="none" stroke="#2a2a2a" stroke-width="0.9" /></g><line x1="1427.0" y1="175.6" x2="1502.0" y2="175.6" stroke="#2a2a2a" stroke-width="1"/><line x1="1427.0" y1="184.5" x2="1502.0" y2="184.5" stroke="#2a2a2a" stroke-width="1"/><line x1="1427.0" y1="187.1" x2="1502.0" y2="187.1" stroke="#2a2a2a" stroke-width="1"/><line x1="1427.0" y1="209.6" x2="1502.0" y2="209.6" stroke="#2a2a2a" stroke-width="1"/><line x1="1427.0" y1="211.9" x2="1502.0" y2="211.9" stroke="#2a2a2a" stroke-width="1"/><line x1="1427.0" y1="244.4" x2="1502.0" y2="244.4" stroke="#2a2a2a" stroke-width="1"/><line x1="1427.0" y1="250.0" x2="1502.0" y2="250.0" stroke="#2a2a2a" stroke-width="1"/><line x1="1427.0" y1="255.2" x2="1502.0" y2="255.2" stroke="#2a2a2a" stroke-width="1"/><line x1="1427.0" y1="266.6" x2="1502.0" y2="266.6" stroke="#2a2a2a" stroke-width="1"/><line x1="1427.0" y1="272.4" x2="1502.0" y2="272.4" stroke="#2a2a2a" stroke-width="1"/><line x1="1427.0" y1="282.8" x2="1502.0" y2="282.8" stroke="#2a2a2a" stroke-width="1.8"/><line x1="1427.0" y1="287.6" x2="1502.0" y2="287.6" stroke="#2a2a2a" stroke-width="1"/><path d="M1427 309.9H1502 M1427 340.3H1502" fill="none" stroke="#2a2a2a" stroke-width="1" /><line x1="1427.0" y1="322.4" x2="1502.0" y2="322.4" stroke="#2a2a2a" stroke-width="0.9" stroke-dasharray="6 3.5"/><line x1="1427.0" y1="336.3" x2="1502.0" y2="336.3" stroke="#2a2a2a" stroke-width="0.9" stroke-dasharray="6 3.5"/><path d="M758.4 217.8C758.4 213.5 760.5 211.4 764 211.4C767.5 211.4 769.5 213.5 769.5 217.8Z" fill="none" stroke="#2a2a2a" stroke-width="0.9" /><path d="M758 220.6H770V217.8H758Z" fill="none" stroke="#2a2a2a" stroke-width="0.9" /><path d="M763 212L768.5 201.5L774 204.5L768.5 214" fill="none" stroke="#2a2a2a" stroke-width="0.9" /><g transform="translate(775.5 197) rotate(28)"><rect x="-8.5" y="-3.8" width="17" height="7.6" rx="1" fill="#fff" stroke="#2a2a2a" stroke-width="1"/></g><rect x="759.5" y="221" width="5" height="17" fill="url(#hh)" stroke="#444" stroke-width="0.7"/><path d="M1207 219.5L1208 211M1220 211L1227 219.5" fill="none" stroke="#2a2a2a" stroke-width="0.9" /><circle cx="1213.7" cy="209.8" r="6.2" fill="#fff" stroke="#2a2a2a" stroke-width="1.1"/><path d="M1211 210L1213.7 207L1216.4 210L1213.7 213Z" fill="none" stroke="#2a2a2a" stroke-width="0.8" /><path d="M706.3 210.4V191.4L724.8 182.6L740.1 191.4V210.4" fill="none" stroke="#2a2a2a" stroke-width="1" /><g transform="translate(673.9 176) rotate(-29.05)"><path d="M22 -3H112C114 -3 114 3 112 3H22" fill="none" stroke="#2a2a2a" stroke-width="1.1" /><line x1="55.0" y1="-1.0" x2="112.0" y2="-1.0" stroke="#2a2a2a" stroke-width="0.8"/><line x1="55.0" y1="1.0" x2="112.0" y2="1.0" stroke="#2a2a2a" stroke-width="0.8"/><path d="M2 -4H22V6H2C0 6 -1 5 -1 3V-1C-1 -3 0 -4 2 -4Z" fill="none" stroke="#2a2a2a" stroke-width="1.1" /><line x1="2.0" y1="-1.5" x2="22.0" y2="-1.5" stroke="#2a2a2a" stroke-width="0.8"/><line x1="2.0" y1="0.5" x2="22.0" y2="0.5" stroke="#2a2a2a" stroke-width="0.8"/><path d="M22 -5H52V5H46L40 12H26L22 6Z" fill="none" stroke="#2a2a2a" stroke-width="1.1" /><line x1="22.0" y1="-2.5" x2="52.0" y2="-2.5" stroke="#2a2a2a" stroke-width="0.8"/><line x1="22.0" y1="-0.5" x2="52.0" y2="-0.5" stroke="#2a2a2a" stroke-width="0.8"/><path d="M30 -5V-7H40V-5" fill="none" stroke="#2a2a2a" stroke-width="0.9" /><path d="M24 6H46V26H24Z" fill="none" stroke="#2a2a2a" stroke-width="1.1" /><path d="M26 8H44V24H26" fill="none" stroke="#2a2a2a" stroke-width="0.8" /><path d="M90 -3V-21C90 -23 91 -24 93 -24H103C105 -24 106 -23 106 -21V-3" fill="none" stroke="#2a2a2a" stroke-width="1.1" /></g><path d="M681 183.5L706.3 191.4 M729.9 149.3L724.8 182.6" fill="none" stroke="#2a2a2a" stroke-width="0.9" /><path d="M892.7 214.6H1083.6L1102.5 231V417.5L1085.3 439.9H892.7L874.6 421.8V231Z" fill="url(#spar)" stroke="none"/><path d="M892.7 214.6H1083.6" fill="none" stroke="#2a2a2a" stroke-width="1" /><path d="M1083.6 214.6L1102.5 231V417.5L1085.3 439.9H892.7L874.6 421.8V231L892.7 214.6" fill="none" stroke="#333" stroke-width="1.9" stroke-dasharray="16 1.2 5 1.2" /><rect x="909.9" y="247.3" width="158.2" height="157.3" rx="13" fill="none" stroke="#2a2a2a" stroke-width="1" stroke-dasharray="5 3"/><rect x="918.5" y="255.9" width="141.0" height="140.1" fill="none" stroke="#2a2a2a" stroke-width="1" stroke-dasharray="5 3"/><circle cx="925.3" cy="263.3" r="6.9" fill="#fff" stroke="#2a2a2a" stroke-width="1"/><circle cx="988.6" cy="263.3" r="6.9" fill="#fff" stroke="#2a2a2a" stroke-width="1"/><circle cx="1052.3" cy="263.3" r="6.9" fill="#fff" stroke="#2a2a2a" stroke-width="1"/><circle cx="925.3" cy="326.4" r="6.9" fill="#fff" stroke="#2a2a2a" stroke-width="1"/><circle cx="1052.3" cy="326.4" r="6.9" fill="#fff" stroke="#2a2a2a" stroke-width="1"/><circle cx="925.3" cy="389.2" r="6.9" fill="#fff" stroke="#2a2a2a" stroke-width="1"/><circle cx="988.6" cy="389.2" r="6.9" fill="#fff" stroke="#2a2a2a" stroke-width="1"/><circle cx="1052.3" cy="389.2" r="6.9" fill="#fff" stroke="#2a2a2a" stroke-width="1"/><path d="M896.1 272.2H877.2V307.5H896.1V300H889V303H881V276.5H889V279.5H896.1Z" fill="none" stroke="#2a2a2a" stroke-width="1" /><rect x="902.1" y="276.5" width="54.2" height="26.7" fill="none" stroke="#2a2a2a" stroke-width="1" stroke-dasharray="5 3"/><line x1="952.0" y1="276.5" x2="952.0" y2="303.2" stroke="#2a2a2a" stroke-width="1" stroke-dasharray="5 3"/><line x1="925.0" y1="289.4" x2="944.0" y2="289.4" stroke="#2a2a2a" stroke-width="1"/><line x1="881.0" y1="289.4" x2="900.0" y2="289.4" stroke="#2a2a2a" stroke-width="1"/><g transform="translate(1977.2,0) scale(-1,1)"><path d="M896.1 272.2H877.2V307.5H896.1V300H889V303H881V276.5H889V279.5H896.1Z" fill="none" stroke="#2a2a2a" stroke-width="1" /><rect x="902.1" y="276.5" width="54.2" height="26.7" fill="none" stroke="#2a2a2a" stroke-width="1" stroke-dasharray="5 3"/><line x1="952.0" y1="276.5" x2="952.0" y2="303.2" stroke="#2a2a2a" stroke-width="1" stroke-dasharray="5 3"/><line x1="925.0" y1="289.4" x2="944.0" y2="289.4" stroke="#2a2a2a" stroke-width="1"/><line x1="881.0" y1="289.4" x2="900.0" y2="289.4" stroke="#2a2a2a" stroke-width="1"/></g><line x1="865.0" y1="326.4" x2="1110.0" y2="326.4" stroke="#2a2a2a" stroke-width="1" stroke-dasharray="18 5 3 5"/><line x1="988.6" y1="7.0" x2="988.6" y2="690.0" stroke="#2a2a2a" stroke-width="1" stroke-dasharray="18 5 3 5"/><path d="M977.6 211.4L983.7 217.1L975.7 219.5Z" fill="none" stroke="#2a2a2a" stroke-width="0.9"/><path d="M1045.1 222.1L1038.3 217.8L1045.5 214.1Z" fill="none" stroke="#2a2a2a" stroke-width="0.9"/><path d="M1062.2 218.1L1066.1 225.7L1057.6 225.2Z" fill="none" stroke="#2a2a2a" stroke-width="0.9"/><path d="M944.6 255.9L949.5 249.3L952.8 256.8Z" fill="none" stroke="#2a2a2a" stroke-width="0.9"/><path d="M999.8 296.4L997.2 305.1L990.9 298.5Z" fill="none" stroke="#2a2a2a" stroke-width="0.9"/><path d="M914.6 295.6L915.1 288.1L921.3 292.3Z" fill="none" stroke="#2a2a2a" stroke-width="0.9"/><path d="M1014.1 303.5L1014.6 294.3L1022.3 299.2Z" fill="none" stroke="#2a2a2a" stroke-width="0.9"/><path d="M925.6 334.7L921.4 339.8L919.0 333.5Z" fill="none" stroke="#2a2a2a" stroke-width="0.9"/><path d="M992.6 336.6L986.9 328.8L996.5 327.7Z" fill="none" stroke="#2a2a2a" stroke-width="0.9"/><path d="M1088.1 342.2L1084.4 349.9L1079.5 342.9Z" fill="none" stroke="#2a2a2a" stroke-width="0.9"/><path d="M926.8 379.1L929.8 373.2L933.4 378.7Z" fill="none" stroke="#2a2a2a" stroke-width="0.9"/><path d="M989.7 377.2L992.0 383.5L985.3 382.3Z" fill="none" stroke="#2a2a2a" stroke-width="0.9"/><path d="M1007.1 385.6L1011.6 379.8L1014.3 386.6Z" fill="none" stroke="#2a2a2a" stroke-width="0.9"/><path d="M1091.1 395.6L1088.5 388.0L1096.4 389.5Z" fill="none" stroke="#2a2a2a" stroke-width="0.9"/><path d="M893.0 414.0L900.3 419.8L891.6 423.2Z" fill="none" stroke="#2a2a2a" stroke-width="0.9"/><path d="M1057.6 420.0L1061.0 428.0L1052.4 427.0Z" fill="none" stroke="#2a2a2a" stroke-width="0.9"/><path d="M696.5 336.0 L699.7 336.4 L702.7 336.8 L705.6 337.2 L708.5 337.5 L711.4 337.9 L714.4 338.3 L717.3 338.7 L720.3 339.2 L723.3 339.6 L726.2 340.1 L729.2 340.7 L732.1 341.3 L735.0 341.9 L737.9 342.6 L740.8 343.4 L743.7 344.2 L746.6 345.1 L749.4 346.0 L752.3 347.0 L755.1 348.0 L757.9 349.0 L760.7 350.1 L763.4 351.3 L766.2 352.5 L768.9 353.8 L771.5 355.2 L774.1 356.7 L776.7 358.2 L779.2 359.8 L781.7 361.5 L784.1 363.2 L786.5 365.0 L788.9 366.9 L791.1 368.9 L793.4 370.9 L795.6 372.9 L797.7 375.0 L799.8 377.2 L801.8 379.4 L803.8 381.6 L805.7 383.9 L807.5 386.3 L809.4 388.7 L811.1 391.1 L812.8 393.6 L814.4 396.1 L816.0 398.7 L817.5 401.2 L818.9 403.9 L820.3 406.5 L821.7 409.2 L823.0 411.9 L824.3 414.6 L825.6 417.3 L826.8 420.0 L828.0 422.8 L829.2 425.5 L830.4 428.3 L831.6 431.0 L832.8 433.8 L834.0 436.5 L835.2 439.3 L836.3 442.1 L837.5 444.8 L838.6 447.6 L839.6 450.4 L840.7 453.2 L841.7 456.1 L842.6 458.9 L843.5 461.8 L844.4 464.6 L845.3 467.5 L846.2 470.4 L847.0 473.2 L847.8 476.1 L848.6 479.0 L849.4 481.9 L850.2 484.8 L851.0 487.7 L851.8 490.6 L852.5 493.5 L853.3 496.4 L854.1 499.3 L854.8 502.2 L855.6 505.1 L856.4 508.0 L857.2 510.9 L858.0 513.8 L858.9 516.7 L859.7 519.5 L860.6 522.4 L861.5 525.3 L862.4 528.1 L863.3 531.0 L864.2 533.8 L865.2 536.7 L866.1 539.5 L867.1 542.4 L868.0 545.2 L869.0 548.1 L870.0 550.9 L870.9 553.7 L871.9 556.6 L872.9 559.4 L873.9 562.2 L874.9 565.1 L875.8 567.9 L876.8 570.7 L877.8 573.6 L878.8 576.4 L879.8 579.2 L880.8 582.1 L881.9 584.9 L882.9 587.7 L884.0 590.5 L885.2 593.2 L886.4 596.0 L887.6 598.7 L888.8 601.5 L890.1 604.2 L891.4 606.9 L892.7 609.6 L894.1 612.2 L895.5 614.9 L897.0 617.5 L898.5 620.0 L900.1 622.6 L901.8 625.1 L903.5 627.5 L905.3 629.9 L907.1 632.3 L909.0 634.6 L911.0 636.8 L913.1 639.0 L915.1 641.2 L917.3 643.3 L919.5 645.3 L921.7 647.3 L924.0 649.2 L926.4 651.1 L928.8 652.9 L931.2 654.6 L933.7 656.3 L936.2 657.9 L938.8 659.4 L941.4 660.9 L944.0 662.4 L946.7 663.7 L949.4 665.0 L952.1 666.2 L954.9 667.3 L957.7 668.4 L960.5 669.3 L963.4 670.1 L966.3 670.7 L969.3 671.3 L972.2 671.8 L975.1 672.2 L978.1 672.5 L981.0 672.7 L983.9 672.9 L986.9 673.1" fill="none" stroke="#1a1a1a" stroke-width="1.7" /><path d="M697.2 330.7 L700.4 331.2 L703.3 331.5 L706.2 331.9 L709.1 332.3 L712.1 332.6 L715.1 333.0 L718.1 333.5 L721.1 333.9 L724.1 334.4 L727.1 334.9 L730.2 335.5 L733.2 336.1 L736.2 336.8 L739.2 337.5 L742.2 338.3 L745.2 339.1 L748.2 340.0 L751.1 341.0 L754.0 341.9 L756.9 343.0 L759.8 344.1 L762.7 345.2 L765.6 346.4 L768.4 347.7 L771.2 349.1 L774.0 350.5 L776.8 352.1 L779.5 353.7 L782.1 355.4 L784.8 357.1 L787.3 359.0 L789.8 360.9 L792.2 362.8 L794.6 364.9 L797.0 367.0 L799.2 369.1 L801.5 371.3 L803.6 373.5 L805.7 375.8 L807.8 378.2 L809.8 380.6 L811.7 383.0 L813.6 385.5 L815.4 388.1 L817.2 390.7 L818.9 393.3 L820.5 395.9 L822.1 398.6 L823.6 401.3 L825.0 404.1 L826.4 406.8 L827.8 409.6 L829.1 412.3 L830.4 415.1 L831.6 417.8 L832.9 420.6 L834.1 423.4 L835.3 426.1 L836.5 428.9 L837.7 431.7 L838.9 434.5 L840.1 437.2 L841.2 440.0 L842.4 442.9 L843.5 445.7 L844.6 448.6 L845.7 451.4 L846.7 454.3 L847.6 457.3 L848.6 460.2 L849.5 463.1 L850.4 466.0 L851.2 468.9 L852.1 471.8 L852.9 474.7 L853.8 477.6 L854.6 480.5 L855.3 483.4 L856.1 486.3 L856.9 489.3 L857.6 492.2 L858.4 495.1 L859.2 498.0 L859.9 500.8 L860.7 503.7 L861.5 506.6 L862.3 509.5 L863.1 512.3 L863.9 515.2 L864.8 518.0 L865.7 520.8 L866.5 523.7 L867.4 526.5 L868.3 529.4 L869.3 532.2 L870.2 535.0 L871.1 537.9 L872.1 540.7 L873.0 543.5 L874.0 546.3 L875.0 549.2 L875.9 552.0 L876.9 554.8 L877.9 557.7 L878.9 560.5 L879.9 563.3 L880.8 566.2 L881.8 569.0 L882.8 571.8 L883.8 574.6 L884.8 577.4 L885.8 580.2 L886.8 583.0 L887.9 585.7 L889.0 588.5 L890.1 591.2 L891.2 593.9 L892.4 596.6 L893.6 599.2 L894.9 601.9 L896.2 604.5 L897.5 607.2 L898.8 609.7 L900.2 612.3 L901.6 614.8 L903.1 617.3 L904.6 619.7 L906.1 622.1 L907.8 624.4 L909.5 626.7 L911.2 629.0 L913.1 631.1 L914.9 633.3 L916.9 635.4 L918.9 637.4 L920.9 639.4 L923.0 641.4 L925.2 643.2 L927.4 645.1 L929.6 646.9 L931.9 648.6 L934.2 650.2 L936.6 651.8 L939.0 653.4 L941.5 654.9 L944.0 656.3 L946.5 657.7 L949.0 659.0 L951.6 660.2 L954.2 661.3 L956.8 662.4 L959.4 663.3 L962.1 664.2 L964.7 664.9 L967.4 665.6 L970.2 666.1 L973.0 666.6 L975.8 666.9 L978.5 667.2 L981.4 667.4 L984.2 667.6 L987.3 667.9" fill="none" stroke="#1a1a1a" stroke-width="1.4" /><path d="M697.6 327.9 L700.8 328.3 L703.7 328.7 L706.6 329.0 L709.5 329.4 L712.5 329.8 L715.5 330.2 L718.5 330.6 L721.5 331.1 L724.6 331.5 L727.6 332.1 L730.7 332.6 L733.8 333.3 L736.9 333.9 L739.9 334.7 L743.0 335.5 L746.0 336.3 L749.0 337.3 L752.0 338.2 L755.0 339.2 L757.9 340.3 L760.9 341.4 L763.8 342.5 L766.7 343.8 L769.6 345.1 L772.5 346.5 L775.4 348.0 L778.2 349.6 L781.0 351.2 L783.7 352.9 L786.4 354.8 L789.0 356.6 L791.6 358.6 L794.1 360.6 L796.5 362.7 L798.9 364.8 L801.2 367.0 L803.5 369.2 L805.7 371.5 L807.9 373.9 L810.0 376.3 L812.0 378.8 L814.0 381.3 L816.0 383.8 L817.8 386.4 L819.6 389.1 L821.3 391.7 L823.0 394.5 L824.6 397.2 L826.1 400.0 L827.6 402.7 L829.0 405.5 L830.4 408.3 L831.7 411.1 L833.0 413.9 L834.3 416.6 L835.5 419.4 L836.7 422.2 L838.0 425.0 L839.2 427.8 L840.4 430.5 L841.5 433.3 L842.7 436.1 L843.9 438.9 L845.1 441.8 L846.2 444.6 L847.3 447.5 L848.4 450.5 L849.4 453.4 L850.4 456.3 L851.3 459.3 L852.3 462.2 L853.2 465.1 L854.0 468.0 L854.9 471.0 L855.7 473.9 L856.5 476.8 L857.4 479.8 L858.1 482.7 L858.9 485.6 L859.7 488.5 L860.5 491.4 L861.2 494.3 L862.0 497.2 L862.7 500.1 L863.5 503.0 L864.3 505.8 L865.1 508.7 L865.9 511.5 L866.7 514.3 L867.6 517.2 L868.4 520.0 L869.3 522.8 L870.2 525.6 L871.1 528.5 L872.0 531.3 L872.9 534.1 L873.9 536.9 L874.8 539.8 L875.8 542.6 L876.7 545.4 L877.7 548.2 L878.7 551.1 L879.7 553.9 L880.6 556.7 L881.6 559.6 L882.6 562.4 L883.6 565.2 L884.6 568.1 L885.5 570.9 L886.5 573.7 L887.5 576.5 L888.5 579.2 L889.5 582.0 L890.6 584.7 L891.7 587.4 L892.8 590.1 L893.9 592.7 L895.1 595.4 L896.3 598.0 L897.5 600.6 L898.8 603.3 L900.0 605.8 L901.4 608.4 L902.7 610.9 L904.1 613.4 L905.5 615.8 L907.0 618.2 L908.5 620.5 L910.1 622.7 L911.8 625.0 L913.5 627.1 L915.3 629.3 L917.1 631.3 L919.0 633.4 L920.9 635.4 L922.9 637.3 L925.0 639.2 L927.1 641.0 L929.2 642.8 L931.4 644.6 L933.6 646.2 L935.9 647.9 L938.2 649.4 L940.6 650.9 L942.9 652.4 L945.4 653.8 L947.8 655.1 L950.3 656.4 L952.8 657.5 L955.3 658.7 L957.8 659.7 L960.4 660.6 L962.9 661.4 L965.4 662.1 L968.0 662.7 L970.7 663.3 L973.4 663.7 L976.1 664.1 L978.8 664.3 L981.6 664.6 L984.4 664.8 L987.5 665.0" fill="none" stroke="#1a1a1a" stroke-width="1.4" /><path d="M698.3 322.6 L701.4 323.1 L704.3 323.4 L707.2 323.8 L710.2 324.1 L713.2 324.5 L716.2 324.9 L719.3 325.4 L722.3 325.8 L725.4 326.3 L728.6 326.8 L731.7 327.4 L734.9 328.1 L738.1 328.8 L741.2 329.6 L744.4 330.4 L747.5 331.3 L750.6 332.2 L753.6 333.2 L756.7 334.2 L759.7 335.3 L762.8 336.4 L765.8 337.6 L768.9 338.9 L771.9 340.3 L774.9 341.8 L777.9 343.3 L780.9 345.0 L783.8 346.7 L786.7 348.5 L789.5 350.4 L792.2 352.4 L794.9 354.4 L797.5 356.5 L800.0 358.7 L802.5 360.9 L804.9 363.2 L807.3 365.5 L809.6 367.9 L811.8 370.4 L814.0 372.9 L816.2 375.4 L818.2 378.0 L820.2 380.7 L822.2 383.4 L824.0 386.1 L825.8 388.9 L827.6 391.8 L829.2 394.6 L830.8 397.4 L832.3 400.3 L833.7 403.1 L835.1 406.0 L836.5 408.8 L837.8 411.6 L839.1 414.5 L840.4 417.3 L841.6 420.1 L842.8 422.9 L844.0 425.7 L845.2 428.5 L846.4 431.2 L847.6 434.1 L848.8 436.9 L850.0 439.8 L851.1 442.7 L852.3 445.7 L853.4 448.7 L854.4 451.7 L855.4 454.7 L856.4 457.7 L857.3 460.6 L858.2 463.6 L859.1 466.5 L860.0 469.5 L860.8 472.4 L861.7 475.4 L862.5 478.4 L863.3 481.3 L864.0 484.2 L864.8 487.2 L865.6 490.1 L866.3 493.0 L867.1 495.9 L867.9 498.7 L868.6 501.6 L869.4 504.4 L870.2 507.2 L871.0 510.0 L871.8 512.8 L872.6 515.6 L873.5 518.4 L874.4 521.2 L875.2 524.0 L876.1 526.8 L877.1 529.6 L878.0 532.5 L878.9 535.3 L879.8 538.1 L880.8 540.9 L881.8 543.7 L882.7 546.5 L883.7 549.3 L884.7 552.2 L885.6 555.0 L886.6 557.8 L887.6 560.7 L888.6 563.5 L889.6 566.3 L890.6 569.1 L891.5 571.9 L892.5 574.7 L893.5 577.4 L894.5 580.1 L895.5 582.8 L896.6 585.4 L897.6 588.0 L898.7 590.6 L899.9 593.2 L901.1 595.8 L902.3 598.4 L903.5 600.9 L904.8 603.4 L906.1 605.9 L907.4 608.3 L908.7 610.7 L910.1 613.0 L911.5 615.3 L912.9 617.5 L914.4 619.6 L916.0 621.7 L917.6 623.8 L919.3 625.8 L921.0 627.8 L922.8 629.7 L924.7 631.6 L926.6 633.5 L928.5 635.3 L930.5 637.0 L932.6 638.7 L934.6 640.4 L936.8 642.0 L938.9 643.5 L941.1 645.0 L943.4 646.4 L945.6 647.8 L947.9 649.1 L950.3 650.4 L952.6 651.6 L955.0 652.7 L957.4 653.8 L959.7 654.7 L962.1 655.6 L964.4 656.3 L966.8 657.0 L969.2 657.5 L971.7 658.0 L974.2 658.5 L976.7 658.8 L979.3 659.1 L982.0 659.3 L984.8 659.5 L987.9 659.7" fill="none" stroke="#1a1a1a" stroke-width="1.7" /><g transform="translate(1977.2,0) scale(-1,1)"><path d="M696.5 336.0 L699.7 336.4 L702.7 336.8 L705.6 337.2 L708.5 337.5 L711.4 337.9 L714.4 338.3 L717.3 338.7 L720.3 339.2 L723.3 339.6 L726.2 340.1 L729.2 340.7 L732.1 341.3 L735.0 341.9 L737.9 342.6 L740.8 343.4 L743.7 344.2 L746.6 345.1 L749.4 346.0 L752.3 347.0 L755.1 348.0 L757.9 349.0 L760.7 350.1 L763.4 351.3 L766.2 352.5 L768.9 353.8 L771.5 355.2 L774.1 356.7 L776.7 358.2 L779.2 359.8 L781.7 361.5 L784.1 363.2 L786.5 365.0 L788.9 366.9 L791.1 368.9 L793.4 370.9 L795.6 372.9 L797.7 375.0 L799.8 377.2 L801.8 379.4 L803.8 381.6 L805.7 383.9 L807.5 386.3 L809.4 388.7 L811.1 391.1 L812.8 393.6 L814.4 396.1 L816.0 398.7 L817.5 401.2 L818.9 403.9 L820.3 406.5 L821.7 409.2 L823.0 411.9 L824.3 414.6 L825.6 417.3 L826.8 420.0 L828.0 422.8 L829.2 425.5 L830.4 428.3 L831.6 431.0 L832.8 433.8 L834.0 436.5 L835.2 439.3 L836.3 442.1 L837.5 444.8 L838.6 447.6 L839.6 450.4 L840.7 453.2 L841.7 456.1 L842.6 458.9 L843.5 461.8 L844.4 464.6 L845.3 467.5 L846.2 470.4 L847.0 473.2 L847.8 476.1 L848.6 479.0 L849.4 481.9 L850.2 484.8 L851.0 487.7 L851.8 490.6 L852.5 493.5 L853.3 496.4 L854.1 499.3 L854.8 502.2 L855.6 505.1 L856.4 508.0 L857.2 510.9 L858.0 513.8 L858.9 516.7 L859.7 519.5 L860.6 522.4 L861.5 525.3 L862.4 528.1 L863.3 531.0 L864.2 533.8 L865.2 536.7 L866.1 539.5 L867.1 542.4 L868.0 545.2 L869.0 548.1 L870.0 550.9 L870.9 553.7 L871.9 556.6 L872.9 559.4 L873.9 562.2 L874.9 565.1 L875.8 567.9 L876.8 570.7 L877.8 573.6 L878.8 576.4 L879.8 579.2 L880.8 582.1 L881.9 584.9 L882.9 587.7 L884.0 590.5 L885.2 593.2 L886.4 596.0 L887.6 598.7 L888.8 601.5 L890.1 604.2 L891.4 606.9 L892.7 609.6 L894.1 612.2 L895.5 614.9 L897.0 617.5 L898.5 620.0 L900.1 622.6 L901.8 625.1 L903.5 627.5 L905.3 629.9 L907.1 632.3 L909.0 634.6 L911.0 636.8 L913.1 639.0 L915.1 641.2 L917.3 643.3 L919.5 645.3 L921.7 647.3 L924.0 649.2 L926.4 651.1 L928.8 652.9 L931.2 654.6 L933.7 656.3 L936.2 657.9 L938.8 659.4 L941.4 660.9 L944.0 662.4 L946.7 663.7 L949.4 665.0 L952.1 666.2 L954.9 667.3 L957.7 668.4 L960.5 669.3 L963.4 670.1 L966.3 670.7 L969.3 671.3 L972.2 671.8 L975.1 672.2 L978.1 672.5 L981.0 672.7 L983.9 672.9 L986.9 673.1" fill="none" stroke="#1a1a1a" stroke-width="1.7" /><path d="M697.2 330.7 L700.4 331.2 L703.3 331.5 L706.2 331.9 L709.1 332.3 L712.1 332.6 L715.1 333.0 L718.1 333.5 L721.1 333.9 L724.1 334.4 L727.1 334.9 L730.2 335.5 L733.2 336.1 L736.2 336.8 L739.2 337.5 L742.2 338.3 L745.2 339.1 L748.2 340.0 L751.1 341.0 L754.0 341.9 L756.9 343.0 L759.8 344.1 L762.7 345.2 L765.6 346.4 L768.4 347.7 L771.2 349.1 L774.0 350.5 L776.8 352.1 L779.5 353.7 L782.1 355.4 L784.8 357.1 L787.3 359.0 L789.8 360.9 L792.2 362.8 L794.6 364.9 L797.0 367.0 L799.2 369.1 L801.5 371.3 L803.6 373.5 L805.7 375.8 L807.8 378.2 L809.8 380.6 L811.7 383.0 L813.6 385.5 L815.4 388.1 L817.2 390.7 L818.9 393.3 L820.5 395.9 L822.1 398.6 L823.6 401.3 L825.0 404.1 L826.4 406.8 L827.8 409.6 L829.1 412.3 L830.4 415.1 L831.6 417.8 L832.9 420.6 L834.1 423.4 L835.3 426.1 L836.5 428.9 L837.7 431.7 L838.9 434.5 L840.1 437.2 L841.2 440.0 L842.4 442.9 L843.5 445.7 L844.6 448.6 L845.7 451.4 L846.7 454.3 L847.6 457.3 L848.6 460.2 L849.5 463.1 L850.4 466.0 L851.2 468.9 L852.1 471.8 L852.9 474.7 L853.8 477.6 L854.6 480.5 L855.3 483.4 L856.1 486.3 L856.9 489.3 L857.6 492.2 L858.4 495.1 L859.2 498.0 L859.9 500.8 L860.7 503.7 L861.5 506.6 L862.3 509.5 L863.1 512.3 L863.9 515.2 L864.8 518.0 L865.7 520.8 L866.5 523.7 L867.4 526.5 L868.3 529.4 L869.3 532.2 L870.2 535.0 L871.1 537.9 L872.1 540.7 L873.0 543.5 L874.0 546.3 L875.0 549.2 L875.9 552.0 L876.9 554.8 L877.9 557.7 L878.9 560.5 L879.9 563.3 L880.8 566.2 L881.8 569.0 L882.8 571.8 L883.8 574.6 L884.8 577.4 L885.8 580.2 L886.8 583.0 L887.9 585.7 L889.0 588.5 L890.1 591.2 L891.2 593.9 L892.4 596.6 L893.6 599.2 L894.9 601.9 L896.2 604.5 L897.5 607.2 L898.8 609.7 L900.2 612.3 L901.6 614.8 L903.1 617.3 L904.6 619.7 L906.1 622.1 L907.8 624.4 L909.5 626.7 L911.2 629.0 L913.1 631.1 L914.9 633.3 L916.9 635.4 L918.9 637.4 L920.9 639.4 L923.0 641.4 L925.2 643.2 L927.4 645.1 L929.6 646.9 L931.9 648.6 L934.2 650.2 L936.6 651.8 L939.0 653.4 L941.5 654.9 L944.0 656.3 L946.5 657.7 L949.0 659.0 L951.6 660.2 L954.2 661.3 L956.8 662.4 L959.4 663.3 L962.1 664.2 L964.7 664.9 L967.4 665.6 L970.2 666.1 L973.0 666.6 L975.8 666.9 L978.5 667.2 L981.4 667.4 L984.2 667.6 L987.3 667.9" fill="none" stroke="#1a1a1a" stroke-width="1.4" /><path d="M697.6 327.9 L700.8 328.3 L703.7 328.7 L706.6 329.0 L709.5 329.4 L712.5 329.8 L715.5 330.2 L718.5 330.6 L721.5 331.1 L724.6 331.5 L727.6 332.1 L730.7 332.6 L733.8 333.3 L736.9 333.9 L739.9 334.7 L743.0 335.5 L746.0 336.3 L749.0 337.3 L752.0 338.2 L755.0 339.2 L757.9 340.3 L760.9 341.4 L763.8 342.5 L766.7 343.8 L769.6 345.1 L772.5 346.5 L775.4 348.0 L778.2 349.6 L781.0 351.2 L783.7 352.9 L786.4 354.8 L789.0 356.6 L791.6 358.6 L794.1 360.6 L796.5 362.7 L798.9 364.8 L801.2 367.0 L803.5 369.2 L805.7 371.5 L807.9 373.9 L810.0 376.3 L812.0 378.8 L814.0 381.3 L816.0 383.8 L817.8 386.4 L819.6 389.1 L821.3 391.7 L823.0 394.5 L824.6 397.2 L826.1 400.0 L827.6 402.7 L829.0 405.5 L830.4 408.3 L831.7 411.1 L833.0 413.9 L834.3 416.6 L835.5 419.4 L836.7 422.2 L838.0 425.0 L839.2 427.8 L840.4 430.5 L841.5 433.3 L842.7 436.1 L843.9 438.9 L845.1 441.8 L846.2 444.6 L847.3 447.5 L848.4 450.5 L849.4 453.4 L850.4 456.3 L851.3 459.3 L852.3 462.2 L853.2 465.1 L854.0 468.0 L854.9 471.0 L855.7 473.9 L856.5 476.8 L857.4 479.8 L858.1 482.7 L858.9 485.6 L859.7 488.5 L860.5 491.4 L861.2 494.3 L862.0 497.2 L862.7 500.1 L863.5 503.0 L864.3 505.8 L865.1 508.7 L865.9 511.5 L866.7 514.3 L867.6 517.2 L868.4 520.0 L869.3 522.8 L870.2 525.6 L871.1 528.5 L872.0 531.3 L872.9 534.1 L873.9 536.9 L874.8 539.8 L875.8 542.6 L876.7 545.4 L877.7 548.2 L878.7 551.1 L879.7 553.9 L880.6 556.7 L881.6 559.6 L882.6 562.4 L883.6 565.2 L884.6 568.1 L885.5 570.9 L886.5 573.7 L887.5 576.5 L888.5 579.2 L889.5 582.0 L890.6 584.7 L891.7 587.4 L892.8 590.1 L893.9 592.7 L895.1 595.4 L896.3 598.0 L897.5 600.6 L898.8 603.3 L900.0 605.8 L901.4 608.4 L902.7 610.9 L904.1 613.4 L905.5 615.8 L907.0 618.2 L908.5 620.5 L910.1 622.7 L911.8 625.0 L913.5 627.1 L915.3 629.3 L917.1 631.3 L919.0 633.4 L920.9 635.4 L922.9 637.3 L925.0 639.2 L927.1 641.0 L929.2 642.8 L931.4 644.6 L933.6 646.2 L935.9 647.9 L938.2 649.4 L940.6 650.9 L942.9 652.4 L945.4 653.8 L947.8 655.1 L950.3 656.4 L952.8 657.5 L955.3 658.7 L957.8 659.7 L960.4 660.6 L962.9 661.4 L965.4 662.1 L968.0 662.7 L970.7 663.3 L973.4 663.7 L976.1 664.1 L978.8 664.3 L981.6 664.6 L984.4 664.8 L987.5 665.0" fill="none" stroke="#1a1a1a" stroke-width="1.4" /><path d="M698.3 322.6 L701.4 323.1 L704.3 323.4 L707.2 323.8 L710.2 324.1 L713.2 324.5 L716.2 324.9 L719.3 325.4 L722.3 325.8 L725.4 326.3 L728.6 326.8 L731.7 327.4 L734.9 328.1 L738.1 328.8 L741.2 329.6 L744.4 330.4 L747.5 331.3 L750.6 332.2 L753.6 333.2 L756.7 334.2 L759.7 335.3 L762.8 336.4 L765.8 337.6 L768.9 338.9 L771.9 340.3 L774.9 341.8 L777.9 343.3 L780.9 345.0 L783.8 346.7 L786.7 348.5 L789.5 350.4 L792.2 352.4 L794.9 354.4 L797.5 356.5 L800.0 358.7 L802.5 360.9 L804.9 363.2 L807.3 365.5 L809.6 367.9 L811.8 370.4 L814.0 372.9 L816.2 375.4 L818.2 378.0 L820.2 380.7 L822.2 383.4 L824.0 386.1 L825.8 388.9 L827.6 391.8 L829.2 394.6 L830.8 397.4 L832.3 400.3 L833.7 403.1 L835.1 406.0 L836.5 408.8 L837.8 411.6 L839.1 414.5 L840.4 417.3 L841.6 420.1 L842.8 422.9 L844.0 425.7 L845.2 428.5 L846.4 431.2 L847.6 434.1 L848.8 436.9 L850.0 439.8 L851.1 442.7 L852.3 445.7 L853.4 448.7 L854.4 451.7 L855.4 454.7 L856.4 457.7 L857.3 460.6 L858.2 463.6 L859.1 466.5 L860.0 469.5 L860.8 472.4 L861.7 475.4 L862.5 478.4 L863.3 481.3 L864.0 484.2 L864.8 487.2 L865.6 490.1 L866.3 493.0 L867.1 495.9 L867.9 498.7 L868.6 501.6 L869.4 504.4 L870.2 507.2 L871.0 510.0 L871.8 512.8 L872.6 515.6 L873.5 518.4 L874.4 521.2 L875.2 524.0 L876.1 526.8 L877.1 529.6 L878.0 532.5 L878.9 535.3 L879.8 538.1 L880.8 540.9 L881.8 543.7 L882.7 546.5 L883.7 549.3 L884.7 552.2 L885.6 555.0 L886.6 557.8 L887.6 560.7 L888.6 563.5 L889.6 566.3 L890.6 569.1 L891.5 571.9 L892.5 574.7 L893.5 577.4 L894.5 580.1 L895.5 582.8 L896.6 585.4 L897.6 588.0 L898.7 590.6 L899.9 593.2 L901.1 595.8 L902.3 598.4 L903.5 600.9 L904.8 603.4 L906.1 605.9 L907.4 608.3 L908.7 610.7 L910.1 613.0 L911.5 615.3 L912.9 617.5 L914.4 619.6 L916.0 621.7 L917.6 623.8 L919.3 625.8 L921.0 627.8 L922.8 629.7 L924.7 631.6 L926.6 633.5 L928.5 635.3 L930.5 637.0 L932.6 638.7 L934.6 640.4 L936.8 642.0 L938.9 643.5 L941.1 645.0 L943.4 646.4 L945.6 647.8 L947.9 649.1 L950.3 650.4 L952.6 651.6 L955.0 652.7 L957.4 653.8 L959.7 654.7 L962.1 655.6 L964.4 656.3 L966.8 657.0 L969.2 657.5 L971.7 658.0 L974.2 658.5 L976.7 658.8 L979.3 659.1 L982.0 659.3 L984.8 659.5 L987.9 659.7" fill="none" stroke="#1a1a1a" stroke-width="1.7" /></g><path d="M698.5 321.6 L701.6 322.1 L704.4 322.4 L707.3 322.8 L710.3 323.1 L713.3 323.5 L716.3 323.9 L719.4 324.4 L722.5 324.8 L725.6 325.3 L728.8 325.9 L731.9 326.4 L735.1 327.1 L738.3 327.8 L741.5 328.6 L744.7 329.4 L747.8 330.3 L750.9 331.2 L754.0 332.2 L757.0 333.3 L755.8 326.5 L752.7 325.5 L749.5 324.5 L746.2 323.6 L743.0 322.8 L739.7 322.0 L736.4 321.2 L733.1 320.6 L729.8 320.0 L726.6 319.4 L723.4 318.9 L720.3 318.4 L717.2 318.0 L714.1 317.6 L711.0 317.2 L708.1 316.8 L705.2 316.5 L702.4 316.1 L699.3 315.7Z" fill="url(#vh)" stroke="#2a2a2a" stroke-width="1" /><g transform="translate(1977.2,0) scale(-1,1)"><path d="M698.5 321.6 L701.6 322.1 L704.4 322.4 L707.3 322.8 L710.3 323.1 L713.3 323.5 L716.3 323.9 L719.4 324.4 L722.5 324.8 L725.6 325.3 L728.8 325.9 L731.9 326.4 L735.1 327.1 L738.3 327.8 L741.5 328.6 L744.7 329.4 L747.8 330.3 L750.9 331.2 L754.0 332.2 L757.0 333.3 L755.8 326.5 L752.7 325.5 L749.5 324.5 L746.2 323.6 L743.0 322.8 L739.7 322.0 L736.4 321.2 L733.1 320.6 L729.8 320.0 L726.6 319.4 L723.4 318.9 L720.3 318.4 L717.2 318.0 L714.1 317.6 L711.0 317.2 L708.1 316.8 L705.2 316.5 L702.4 316.1 L699.3 315.7Z" fill="url(#vh)" stroke="#2a2a2a" stroke-width="1" /></g><path d="M806.5 324.4L892.0 505.0C905.0 532 940 561 988.6 562" fill="none" stroke="#2a2a2a" stroke-width="0.9" /><g transform="translate(1977.2,0) scale(-1,1)"><path d="M806.5 324.4L892.0 505.0C905.0 532 940 561 988.6 562" fill="none" stroke="#2a2a2a" stroke-width="0.9" /></g><path d="M808.1 324.4L892.96 504.2C905.48 530.4 940 559.4 988.6 560.4" fill="none" stroke="#2a2a2a" stroke-width="0.9" /><g transform="translate(1977.2,0) scale(-1,1)"><path d="M808.1 324.4L892.96 504.2C905.48 530.4 940 559.4 988.6 560.4" fill="none" stroke="#2a2a2a" stroke-width="0.9" /></g><line x1="556.0" y1="517.9" x2="1502.0" y2="517.9" stroke="#555" stroke-width="1" stroke-dasharray="11 5.5"/><line x1="549.5" y1="673.3" x2="1502.0" y2="673.3" stroke="#2a2a2a" stroke-width="1"/><line x1="966.7" y1="324.0" x2="966.7" y2="678.0" stroke="#2a2a2a" stroke-width="1"/><line x1="983.0" y1="512.0" x2="983.0" y2="568.0" stroke="#2a2a2a" stroke-width="0.9"/><line x1="979.0" y1="518.0" x2="987.0" y2="518.0" stroke="#2a2a2a" stroke-width="0.9"/><line x1="979.0" y1="562.0" x2="987.0" y2="562.0" stroke="#2a2a2a" stroke-width="0.9"/><line x1="985.0" y1="489.2" x2="1282.0" y2="489.2" stroke="#2a2a2a" stroke-width="1"/><line x1="1281.5" y1="313.0" x2="1281.5" y2="493.0" stroke="#2a2a2a" stroke-width="1"/><path d="M1281.3 313.3C1284 320.5 1296.5 320.5 1299.5 313.3M1281.3 330.8C1284 338 1296.5 338 1299.5 330.8" fill="none" stroke="#2a2a2a" stroke-width="1" /><path d="M1272.5 315V309.4H1280" fill="none" stroke="#2a2a2a" stroke-width="0.9" /><line x1="985.0" y1="489.2" x2="992.0" y2="489.2" stroke="#2a2a2a" stroke-width="1.5"/><text class="lb" x="957.0" y="498.0" text-anchor="middle" font-size="10" transform="rotate(-90 957 498)" font-size="10">1'-3½"</text><text class="lb" x="978.0" y="540.0" text-anchor="middle" font-size="10" transform="rotate(-90 978 540)">2"</text><text class="lb" x="1162.0" y="484.0" text-anchor="middle" font-size="10" >1'-1"</text><text class="lb" x="779.0" y="164.0" text-anchor="middle" font-size="11" >2"</text><line x1="760.5" y1="168.5" x2="808.5" y2="168.5" stroke="#2a2a2a" stroke-width="0.9"/><line x1="763.7" y1="163.0" x2="763.7" y2="212.0" stroke="#2a2a2a" stroke-width="0.9"/><path d="M696 315V360.4 M696.5 358.3C715 359 735 363 748 369C770 380 790 402 801.7 426" fill="none" stroke="#2a2a2a" stroke-width="0.9" /><path d="M696.5 358.3L701 355M696.5 358.3L700 362.5M801.7 426L796 422.5M801.7 426L801.5 419.5" fill="none" stroke="#2a2a2a" stroke-width="0.9" /><path d="M742 366.8L758.5 323" fill="none" stroke="#2a2a2a" stroke-width="0.9" /><path d="M738 363L746 370.5 M738 370.5L746 363" fill="none" stroke="#2a2a2a" stroke-width="0.9" /><text class="lb" x="768.2" y="67.8" text-anchor="middle" font-size="14" >18</text><text class="lb" x="793.0" y="67.8" text-anchor="middle" font-size="14" >9</text><text class="lb" x="854.8" y="67.8" text-anchor="middle" font-size="14" >17</text><text class="lb" x="880.6" y="67.8" text-anchor="middle" font-size="14" >16</text><text class="lb" x="1150.0" y="68.7" text-anchor="middle" font-size="14" >2</text><text class="lb" x="1183.2" y="68.7" text-anchor="middle" font-size="14" >3</text><text class="lb" x="1214.7" y="68.7" text-anchor="middle" font-size="14" >4</text><text class="lb" x="1301.4" y="68.7" text-anchor="middle" font-size="14" >5</text><text class="lb" x="1338.0" y="68.7" text-anchor="middle" font-size="14" >6</text><text class="lb" x="1113.4" y="377.4" text-anchor="middle" font-size="14" >9</text><text class="lb" x="1247.9" y="377.4" text-anchor="middle" font-size="14" >8</text><text class="lb" x="1275.0" y="377.4" text-anchor="middle" font-size="14" >7</text><text class="lb" x="1060.3" y="482.4" text-anchor="middle" font-size="14" >11</text><text class="lb" x="1186.2" y="572.1" text-anchor="middle" font-size="14" >13</text><text class="lb" x="1221.8" y="631.4" text-anchor="middle" font-size="14" >15</text><text class="lb" x="1080.5" y="81.3" text-anchor="start" font-size="14" >1</text><text class="lb" x="1120.2" y="397.7" text-anchor="start" font-size="14" >10</text><text class="lb" x="1181.2" y="431.6" text-anchor="start" font-size="14" >12</text><text class="lb" x="1181.2" y="456.0" text-anchor="start" font-size="14" >14</text><line x1="768.3" y1="76.0" x2="768.3" y2="190.0" stroke="#2a2a2a" stroke-width="0.9"/><line x1="793.3" y1="76.0" x2="793.3" y2="206.7" stroke="#2a2a2a" stroke-width="0.9"/><line x1="855.8" y1="76.0" x2="855.8" y2="165.3" stroke="#2a2a2a" stroke-width="0.9"/><line x1="880.6" y1="76.0" x2="880.6" y2="129.0" stroke="#2a2a2a" stroke-width="0.9"/><line x1="1150.0" y1="76.0" x2="1150.0" y2="132.0" stroke="#2a2a2a" stroke-width="0.9"/><line x1="1183.0" y1="76.0" x2="1183.0" y2="159.8" stroke="#2a2a2a" stroke-width="0.9"/><line x1="1214.7" y1="76.0" x2="1214.7" y2="175.4" stroke="#2a2a2a" stroke-width="0.9"/><line x1="1301.4" y1="76.0" x2="1301.4" y2="225.2" stroke="#2a2a2a" stroke-width="0.9"/><line x1="1338.0" y1="76.0" x2="1338.0" y2="270.9" stroke="#2a2a2a" stroke-width="0.9"/><line x1="1113.4" y1="311.8" x2="1113.4" y2="358.2" stroke="#2a2a2a" stroke-width="0.9"/><line x1="1248.0" y1="322.5" x2="1248.0" y2="357.0" stroke="#2a2a2a" stroke-width="0.9"/><line x1="1275.0" y1="322.5" x2="1275.0" y2="357.0" stroke="#2a2a2a" stroke-width="0.9"/><line x1="1060.3" y1="441.7" x2="1060.3" y2="463.8" stroke="#2a2a2a" stroke-width="0.9"/><line x1="1186.2" y1="518.0" x2="1186.2" y2="552.8" stroke="#2a2a2a" stroke-width="0.9"/><line x1="1221.8" y1="640.9" x2="1221.8" y2="674.7" stroke="#2a2a2a" stroke-width="0.9"/><line x1="793.3" y1="206.7" x2="808.0" y2="206.7" stroke="#2a2a2a" stroke-width="0.9"/><line x1="855.8" y1="165.3" x2="836.6" y2="165.3" stroke="#2a2a2a" stroke-width="0.9"/><line x1="1183.0" y1="159.8" x2="1152.4" y2="159.8" stroke="#2a2a2a" stroke-width="0.9"/><line x1="1301.4" y1="225.2" x2="1282.8" y2="225.2" stroke="#2a2a2a" stroke-width="0.9"/><line x1="1045.7" y1="76.2" x2="1077.2" y2="76.2" stroke="#2a2a2a" stroke-width="0.9"/><line x1="1077.2" y1="393.7" x2="1113.4" y2="393.7" stroke="#2a2a2a" stroke-width="0.9"/><line x1="1122.0" y1="429.2" x2="1174.4" y2="429.2" stroke="#2a2a2a" stroke-width="0.9"/><line x1="1132.0" y1="451.9" x2="1174.4" y2="451.9" stroke="#2a2a2a" stroke-width="0.9"/><path d="M1059.5 971.6H1195.5V1108L1502 1114.5V1366H897L879.6 1350V1183.7L896.4 1166.1L1059.5 1164Z" fill="url(#spar)" stroke="none"/><path d="M1059.5 1164V971.6H1195.5" fill="none" stroke="#333" stroke-width="1.8" stroke-dasharray="14 1.2" /><path d="M1059.5 1164H896.4L879.6 1183.7V1350L897 1366" fill="none" stroke="#333" stroke-width="1.8" stroke-dasharray="14 1.2" /><line x1="897.0" y1="1366.0" x2="1502.0" y2="1366.0" stroke="#2a2a2a" stroke-width="1.1"/><line x1="1195.4" y1="1108.0" x2="1195.4" y2="1163.2" stroke="#2a2a2a" stroke-width="0.9" stroke-dasharray="3 2"/><line x1="1195.4" y1="1163.2" x2="1502.0" y2="1163.2" stroke="#2a2a2a" stroke-width="0.9" stroke-dasharray="3 2"/><path d="M1130.0 978.3L1134.0 985.3L1126.0 985.3Z" fill="none" stroke="#2a2a2a" stroke-width="0.9"/><path d="M1153.9 993.1L1158.9 998.0L1152.2 999.8Z" fill="none" stroke="#2a2a2a" stroke-width="0.9"/><path d="M1162.1 1010.3L1157.4 1002.4L1166.5 1002.3Z" fill="none" stroke="#2a2a2a" stroke-width="0.9"/><path d="M1145.0 1049.6L1136.8 1049.2L1141.2 1042.3Z" fill="none" stroke="#2a2a2a" stroke-width="0.9"/><path d="M1169.6 1065.1L1177.9 1064.1L1174.5 1071.8Z" fill="none" stroke="#2a2a2a" stroke-width="0.9"/><path d="M1142.7 1098.9L1150.1 1096.8L1148.2 1104.3Z" fill="none" stroke="#2a2a2a" stroke-width="0.9"/><path d="M1183.2 1111.4L1176.5 1114.4L1177.3 1107.2Z" fill="none" stroke="#2a2a2a" stroke-width="0.9"/><path d="M1075.4 1136.4L1068.2 1135.8L1072.3 1129.8Z" fill="none" stroke="#2a2a2a" stroke-width="0.9"/><path d="M1098.3 1152.8L1092.2 1146.7L1100.5 1144.5Z" fill="none" stroke="#2a2a2a" stroke-width="0.9"/><path d="M1081.0 1164.8L1076.9 1157.6L1085.1 1157.6Z" fill="none" stroke="#2a2a2a" stroke-width="0.9"/><path d="M1157.3 1160.7L1150.7 1157.2L1157.0 1153.2Z" fill="none" stroke="#2a2a2a" stroke-width="0.9"/><path d="M1219.5 1132.2L1215.1 1126.4L1222.4 1125.5Z" fill="none" stroke="#2a2a2a" stroke-width="0.9"/><path d="M1257.5 1142.1L1256.8 1132.3L1265.7 1136.6Z" fill="none" stroke="#2a2a2a" stroke-width="0.9"/><path d="M1243.8 1170.9L1235.8 1173.7L1237.3 1165.4Z" fill="none" stroke="#2a2a2a" stroke-width="0.9"/><path d="M1251.4 1210.3L1251.6 1201.6L1259.0 1206.1Z" fill="none" stroke="#2a2a2a" stroke-width="0.9"/><path d="M1352.3 1147.8L1345.3 1140.3L1355.4 1137.9Z" fill="none" stroke="#2a2a2a" stroke-width="0.9"/><path d="M1403.3 1154.9L1404.8 1148.2L1409.8 1152.9Z" fill="none" stroke="#2a2a2a" stroke-width="0.9"/><path d="M1265.9 1252.9L1266.6 1246.7L1271.6 1250.4Z" fill="none" stroke="#2a2a2a" stroke-width="0.9"/><path d="M1040.5 1188.4L1032.6 1190.2L1034.9 1182.4Z" fill="none" stroke="#2a2a2a" stroke-width="0.9"/><path d="M1069.6 1201.0L1070.7 1208.4L1063.8 1205.6Z" fill="none" stroke="#2a2a2a" stroke-width="0.9"/><path d="M1097.5 1223.7L1102.7 1217.3L1105.7 1225.0Z" fill="none" stroke="#2a2a2a" stroke-width="0.9"/><path d="M1150.8 1239.9L1153.7 1230.4L1160.5 1237.7Z" fill="none" stroke="#2a2a2a" stroke-width="0.9"/><path d="M1135.5 1279.9L1137.4 1271.0L1144.1 1277.1Z" fill="none" stroke="#2a2a2a" stroke-width="0.9"/><path d="M1169.2 1293.1L1175.4 1287.3L1177.4 1295.6Z" fill="none" stroke="#2a2a2a" stroke-width="0.9"/><path d="M1263.9 1256.8L1258.4 1250.4L1266.7 1248.8Z" fill="none" stroke="#2a2a2a" stroke-width="0.9"/><path d="M1293.2 1281.3L1301.8 1279.7L1298.9 1288.0Z" fill="none" stroke="#2a2a2a" stroke-width="0.9"/><path d="M1340.0 1221.3L1346.4 1215.0L1348.6 1223.7Z" fill="none" stroke="#2a2a2a" stroke-width="0.9"/><path d="M1384.5 1245.5L1374.7 1244.2L1380.8 1236.3Z" fill="none" stroke="#2a2a2a" stroke-width="0.9"/><path d="M1036.2 1314.2L1037.4 1303.1L1046.4 1309.7Z" fill="none" stroke="#2a2a2a" stroke-width="0.9"/><path d="M1050.3 1328.1L1056.4 1322.3L1058.3 1330.6Z" fill="none" stroke="#2a2a2a" stroke-width="0.9"/><path d="M1052.0 1371.7L1043.9 1375.0L1045.1 1366.3Z" fill="none" stroke="#2a2a2a" stroke-width="0.9"/><path d="M1068.5 1349.0L1074.6 1347.5L1072.8 1353.5Z" fill="none" stroke="#2a2a2a" stroke-width="0.9"/><path d="M1111.6 1326.8L1111.9 1319.0L1118.5 1323.2Z" fill="none" stroke="#2a2a2a" stroke-width="0.9"/><path d="M1133.4 1318.2L1141.6 1313.0L1142.0 1322.7Z" fill="none" stroke="#2a2a2a" stroke-width="0.9"/><path d="M1176.2 1339.3L1185.1 1341.5L1178.7 1348.1Z" fill="none" stroke="#2a2a2a" stroke-width="0.9"/><path d="M1199.1 1331.2L1193.8 1325.9L1201.1 1323.9Z" fill="none" stroke="#2a2a2a" stroke-width="0.9"/><path d="M1279.8 1333.5L1280.4 1344.2L1270.8 1339.3Z" fill="none" stroke="#2a2a2a" stroke-width="0.9"/><path d="M1325.6 1353.5L1329.4 1348.2L1332.1 1354.2Z" fill="none" stroke="#2a2a2a" stroke-width="0.9"/><path d="M1394.7 1340.1L1387.1 1336.3L1394.2 1331.6Z" fill="none" stroke="#2a2a2a" stroke-width="0.9"/><path d="M1382.2 1327.0L1387.9 1323.7L1387.9 1330.3Z" fill="none" stroke="#2a2a2a" stroke-width="0.9"/><path d="M894.1 1299.7L886.7 1304.6L886.1 1295.7Z" fill="none" stroke="#2a2a2a" stroke-width="0.9"/><path d="M902.1 1219.7L908.0 1212.9L910.9 1221.4Z" fill="none" stroke="#2a2a2a" stroke-width="0.9"/><path d="M923.1 1265.4L915.5 1263.0L921.4 1257.6Z" fill="none" stroke="#2a2a2a" stroke-width="0.9"/><path d="M929.3 1229.7L934.7 1233.1L929.1 1236.1Z" fill="none" stroke="#2a2a2a" stroke-width="0.9"/><path d="M946.7 1318.0L944.3 1309.4L953.0 1311.6Z" fill="none" stroke="#2a2a2a" stroke-width="0.9"/><path d="M955.3 1340.3L962.1 1335.7L962.7 1343.9Z" fill="none" stroke="#2a2a2a" stroke-width="0.9"/><path d="M989.9 1256.7L999.3 1251.9L998.8 1262.4Z" fill="none" stroke="#2a2a2a" stroke-width="0.9"/><path d="M1002.3 1359.7L1001.7 1366.6L996.0 1362.7Z" fill="none" stroke="#2a2a2a" stroke-width="0.9"/><path d="M1035.8 1289.7L1041.3 1281.1L1045.9 1290.2Z" fill="none" stroke="#2a2a2a" stroke-width="0.9"/><path d="M1012.4 1231.6L1011.7 1224.8L1017.9 1227.6Z" fill="none" stroke="#2a2a2a" stroke-width="0.9"/><path d="M971.8 1180.3L973.1 1188.9L965.1 1185.8Z" fill="none" stroke="#2a2a2a" stroke-width="0.9"/><path d="M1253.2 1176.3L1251.6 1184.7L1245.2 1179.0Z" fill="none" stroke="#2a2a2a" stroke-width="0.9"/><path d="M1481.4 1330.1L1474.2 1326.0L1481.4 1321.9Z" fill="none" stroke="#2a2a2a" stroke-width="0.9"/><path d="M1485.5 1341.9L1482.0 1334.1L1490.5 1335.0Z" fill="none" stroke="#2a2a2a" stroke-width="0.9"/><path d="M1430.8 1163.6L1435.6 1167.7L1429.7 1169.8Z" fill="none" stroke="#2a2a2a" stroke-width="0.9"/><path d="M1437.4 1248.3L1442.3 1240.9L1446.3 1248.8Z" fill="none" stroke="#2a2a2a" stroke-width="0.9"/><path d="M1214.0 1150.9L1214.6 1158.8L1207.4 1155.3Z" fill="none" stroke="#2a2a2a" stroke-width="0.9"/><path d="M1233.1 1169.7L1241.8 1171.3L1236.1 1178.0Z" fill="none" stroke="#2a2a2a" stroke-width="0.9"/><path d="M1335.6 1116.6L1330.7 1110.2L1338.7 1109.2Z" fill="none" stroke="#2a2a2a" stroke-width="0.9"/><path d="M1490.2 1210.0L1484.1 1217.5L1480.7 1208.5Z" fill="none" stroke="#2a2a2a" stroke-width="0.9"/><path d="M1201.6 1037.8H1285V1019.6L1502 1024V1069.7L1201.6 1063.5Z" fill="url(#xh)" stroke="none"/><path d="M1201.6 1063.5L1502 1069.7V1114.5L1195.5 1108V1098.6H1201.6Z" fill="url(#xh)" stroke="none"/><path d="M1285 1019.6L1502 1024" fill="none" stroke="#2a2a2a" stroke-width="1.1" /><path d="M1201.6 1063.5L1502 1069.7" fill="none" stroke="#2a2a2a" stroke-width="1.1" /><path d="M1195.5 1108L1502 1114.5" fill="none" stroke="#2a2a2a" stroke-width="1.1" /><path d="M1195.5 1031.8H1285.4V1037.8H1201.6V1098.6H1195.5Z" fill="url(#dh)" stroke="#2a2a2a" stroke-width="1" /><path d="M1239.5 939.2L1247.6 937.2V1014.9H1267.2V937.2L1273.2 939.2L1279.3 1005.4L1284.7 1014.9V1031.1H1228.6V1014.9L1234.7 1005.4Z" fill="url(#dh)" stroke="#2a2a2a" stroke-width="1" /><path d="M1245.5 950V1015H1267.2V950" fill="#fff" stroke="#2a2a2a" stroke-width="0.9" /><path d="M1247.6 1009.5L1265.1 1014.9" fill="none" stroke="#2a2a2a" stroke-width="0.8" /><line x1="1248.0" y1="783.0" x2="1248.0" y2="1009.5" stroke="#2a2a2a" stroke-width="1"/><line x1="1256.6" y1="783.0" x2="1256.6" y2="1009.5" stroke="#2a2a2a" stroke-width="1"/><line x1="1265.1" y1="783.0" x2="1265.1" y2="1009.5" stroke="#2a2a2a" stroke-width="1"/><line x1="1245.5" y1="1009.5" x2="1267.2" y2="1009.5" stroke="#2a2a2a" stroke-width="1"/><path d="M1281.4 1019V939.1H1326M1331 939.1V943H1338V939.1H1342.3" fill="none" stroke="#2a2a2a" stroke-width="1" /><path d="M1281.4 984.5H1342.3M1287.4 984.5V989.9H1342.3M1293.5 989.9V1009.5M1287.4 1009.5H1342.3M1287.4 1009.5V1019.6" fill="none" stroke="#2a2a2a" stroke-width="1" /><path d="M983.8 927.9L1228 938.5C1232 938.6 1232 940 1232 942V956C1232 959 1230 960 1227 960H1211.8V988" fill="none" stroke="#2a2a2a" stroke-width="1.1" /><path d="M983.8 927.9V958L987 960L1016 949.3L1030 950.5L1195.7 954.3" fill="none" stroke="#2a2a2a" stroke-width="1.1" /><path d="M986 957L1014 947" fill="none" stroke="#2a2a2a" stroke-width="0.8" /><path d="M1061 932.6L1197 970.9" fill="none" stroke="#2a2a2a" stroke-width="0.9" /><path d="M1016 949.3V969M1018.5 951V969" fill="none" stroke="#2a2a2a" stroke-width="0.9" /><path d="M1020.7 966H1098L1101 968H1195.5M1020.7 968.5H1195.5" fill="none" stroke="#2a2a2a" stroke-width="0.9" /><line x1="1195.6" y1="938.6" x2="1195.6" y2="1031.8" stroke="#2a2a2a" stroke-width="0.9"/><line x1="1060.6" y1="932.6" x2="1060.6" y2="971.0" stroke="#2a2a2a" stroke-width="0.9"/><path d="M1196 970H1208V1011H1212V971" fill="none" stroke="#2a2a2a" stroke-width="0.9" /><line x1="1056.3" y1="971.0" x2="1056.3" y2="1010.4" stroke="#2a2a2a" stroke-width="0.9"/><line x1="1056.3" y1="1010.4" x2="1052.0" y2="1010.4" stroke="#2a2a2a" stroke-width="0.9"/><path d="M1100 964C1103 958 1107 958 1108 964" fill="none" stroke="#2a2a2a" stroke-width="0.9" /><path d="M1155 964C1158 958 1162 958 1163 964" fill="none" stroke="#2a2a2a" stroke-width="0.9" /><line x1="981.4" y1="885.1" x2="1250.9" y2="885.1" stroke="#2a2a2a" stroke-width="1"/><line x1="983.2" y1="882.0" x2="983.2" y2="927.9" stroke="#2a2a2a" stroke-width="1"/><text class="lb" x="1141.4" y="882.3" text-anchor="middle" font-size="10" >11"</text><line x1="1230.9" y1="885.0" x2="1230.9" y2="937.0" stroke="#2a2a2a" stroke-width="0.9"/><text class="lb" x="1224.3" y="878.0" text-anchor="middle" font-size="10" >¾"</text><path d="M1232 872C1240 872 1243 880 1240 887" fill="none" stroke="#2a2a2a" stroke-width="0.8" /><line x1="966.5" y1="925.0" x2="966.5" y2="972.0" stroke="#2a2a2a" stroke-width="0.9"/><line x1="962.0" y1="927.9" x2="984.0" y2="927.9" stroke="#2a2a2a" stroke-width="0.8"/><line x1="962.0" y1="961.5" x2="984.0" y2="961.5" stroke="#2a2a2a" stroke-width="0.8"/><line x1="962.0" y1="972.0" x2="984.0" y2="972.0" stroke="#2a2a2a" stroke-width="0.8"/><text class="lb" x="948.0" y="944.0" text-anchor="middle" font-size="9" transform="rotate(-90 948 944)">1½"</text><text class="lb" x="948.0" y="966.0" text-anchor="middle" font-size="9" transform="rotate(-90 948 966)">½"</text><text class="lb" x="1026.7" y="957.0" text-anchor="middle" font-size="10" >1½"</text><path d="M983.6 939.2H975.6V978.9H983.6M980 937L983.6 939.2L980 941.4M980 976.7L983.6 978.9L980 981.1" fill="none" stroke="#2a2a2a" stroke-width="0.8" /><circle cx="992.8" cy="804.7" r="11.5" fill="none" stroke="#2a2a2a" stroke-width="1"/><text class="lb" x="992.8" y="810.0" text-anchor="middle" font-size="14" >1</text><line x1="992.8" y1="816.5" x2="992.8" y2="926.0" stroke="#2a2a2a" stroke-width="1" stroke-dasharray="18 5 3 5"/><path d="M983.8 971.3 L983.6 974.6 L983.5 977.7 L983.4 980.7 L983.2 983.6 L983.1 986.5 L982.9 989.4 L982.7 992.4 L982.5 995.3 L982.2 998.3 L982.0 1001.3 L981.7 1004.2 L981.4 1007.2 L981.1 1010.2 L980.8 1013.2 L980.4 1016.1 L980.0 1019.1 L979.6 1022.1 L979.1 1025.0 L978.5 1028.0 L977.9 1030.9 L977.2 1033.8 L976.5 1036.7 L975.6 1039.5 L974.7 1042.4 L973.7 1045.1 L972.6 1047.9 L971.4 1050.6 L970.0 1053.2 L968.6 1055.8 L967.0 1058.3 L965.3 1060.7 L963.6 1063.1 L961.8 1065.5 L959.8 1067.8 L957.9 1070.0 L955.8 1072.2 L953.7 1074.3 L951.6 1076.4 L949.4 1078.4 L947.1 1080.3 L944.8 1082.2 L942.5 1084.1 L940.1 1085.8 L937.6 1087.5 L935.1 1089.1 L932.6 1090.7 L930.0 1092.2 L927.4 1093.6 L924.7 1095.0 L922.0 1096.3 L919.3 1097.6 L916.6 1098.8 L913.8 1100.0 L911.1 1101.1 L908.3 1102.2 L905.5 1103.3 L902.7 1104.4 L899.9 1105.4 L897.0 1106.4 L894.2 1107.4 L891.4 1108.4 L888.5 1109.3 L885.7 1110.2 L882.8 1111.1 L879.9 1112.0 L877.1 1112.8 L874.2 1113.7 L871.3 1114.5 L868.4 1115.3 L865.5 1116.1 L862.6 1116.9 L859.7 1117.7 L856.8 1118.5 L853.9 1119.2 L851.0 1120.0 L848.1 1120.8 L845.2 1121.6 L842.3 1122.3 L839.4 1123.1 L836.5 1123.8 L833.6 1124.6 L830.7 1125.4 L827.8 1126.1 L824.9 1126.9 L822.0 1127.7 L819.1 1128.4 L816.2 1129.2 L813.4 1130.1 L810.5 1130.9 L807.6 1131.7 L804.7 1132.6 L801.9 1133.5 L799.0 1134.4 L796.1 1135.3 L793.3 1136.2 L790.4 1137.1 L787.6 1138.1 L784.8 1139.1 L781.9 1140.0 L779.1 1141.0 L776.3 1142.0 L773.4 1143.0 L770.6 1144.1 L767.8 1145.1 L765.0 1146.2 L762.2 1147.2 L759.4 1148.3 L756.6 1149.4 L753.8 1150.5 L751.0 1151.6 L748.2 1152.7 L745.4 1153.8 L742.7 1154.9 L739.9 1156.1 L737.1 1157.2 L734.4 1158.4 L731.6 1159.6 L728.9 1160.8 L726.1 1162.0 L723.4 1163.2 L720.7 1164.5 L718.0 1165.8 L715.3 1167.2 L712.6 1168.6 L710.0 1170.0 L707.4 1171.5 L704.8 1173.0 L702.3 1174.6 L699.8 1176.2 L697.3 1177.9 L694.9 1179.6 L692.5 1181.4 L690.1 1183.2 L687.8 1185.1 L685.5 1187.0 L683.3 1189.0 L681.1 1191.0 L678.9 1193.1 L676.8 1195.2 L674.7 1197.3 L672.7 1199.5 L670.7 1201.8 L668.8 1204.1 L667.0 1206.4 L665.2 1208.8 L663.4 1211.2 L661.8 1213.7 L660.1 1216.2 L658.6 1218.8 L657.2 1221.4 L655.8 1224.0 L654.5 1226.7 L653.2 1229.4 L652.1 1232.1 L651.1 1234.9 L650.1 1237.7 L649.3 1240.6 L648.6 1243.5 L648.0 1246.4 L647.5 1249.3 L647.1 1252.2 L646.9 1255.2 L646.7 1258.2 L646.6 1261.1 L646.6 1264.1 L646.7 1267.1 L646.9 1270.1 L647.1 1273.1 L647.3 1276.0 L647.6 1279.0 L648.0 1282.0 L648.4 1284.9 L648.9 1287.9 L649.5 1290.8 L650.1 1293.7 L650.8 1296.6 L651.6 1299.5 L652.5 1302.4 L653.4 1305.2 L654.5 1308.0 L655.6 1310.7 L656.9 1313.4 L658.2 1316.0 L659.6 1318.6 L661.2 1321.2 L662.8 1323.7 L664.5 1326.1 L666.3 1328.5 L668.2 1330.7 L670.2 1332.9 L672.2 1335.1 L674.4 1337.1 L676.6 1339.1 L678.9 1340.9 L681.3 1342.7 L683.7 1344.4 L686.2 1346.0 L688.8 1347.6 L691.4 1349.1 L694.0 1350.5 L696.6 1351.9 L699.3 1353.2 L702.0 1354.6 L704.7 1355.8 L707.4 1357.1 L710.2 1358.3 L712.9 1359.5 L715.7 1360.7 L718.4 1361.9 L721.2 1363.0 L724.0 1364.1 L726.8 1365.2 L729.5 1366.4 L732.3 1367.5 L735.1 1368.6 L737.9 1369.7 L740.7 1370.8 L743.5 1371.9 L746.3 1373.0 L749.1 1374.1 L751.9 1375.2 L754.7 1376.3 L757.4 1377.4 L760.2 1378.5 L763.0 1379.6 L765.8 1380.7 L768.6 1381.9 L771.4 1383.0 L774.1 1384.1 L776.9 1385.2 L779.7 1386.3 L782.5 1387.4 L785.3 1388.6 L788.1 1389.7 L790.8 1390.8 L793.6 1391.9 L796.4 1393.1 L799.2 1394.2 L802.0 1395.3 L804.7 1396.4 L807.5 1397.6 L810.3 1398.7 L813.1 1399.8 L815.9 1401.0 L818.6 1402.1 L821.4 1403.3 L824.2 1404.4 L827.0 1405.6 L829.7 1406.7 L832.5 1407.9 L835.2 1409.0 L838.0 1410.2 L840.8 1411.4 L843.5 1412.6 L846.2 1413.8 L849.0 1415.1 L851.7 1416.3 L854.4 1417.6 L857.2 1418.8 L859.9 1420.1 L862.6 1421.4 L865.3 1422.7 L868.0 1424.0 L870.6 1425.4 L873.3 1426.7 L876.0 1428.1 L878.7 1429.5 L881.3 1430.9 L883.9 1432.3 L886.6 1433.7 L889.2 1435.2 L891.8 1436.6 L894.4 1438.1 L897.0 1439.6 L899.6 1441.1 L902.2 1442.6 L904.8 1444.2 L907.4 1445.7 L909.9 1447.3 L912.5 1448.8 L915.0 1450.4 L917.5 1452.1 L920.0 1453.7 L922.5 1455.4 L925.0 1457.1 L927.4 1458.8 L929.9 1460.6 L932.3 1462.4 L934.6 1464.2 L937.0 1466.1 L939.3 1468.0 L941.6 1469.9 L943.8 1471.9 L946.1 1473.9 L948.2 1475.9 L950.4 1478.0 L952.5 1480.1 L954.5 1482.3 L956.5 1484.5 L958.5 1486.8 L960.4 1489.1 L962.2 1491.4 L964.0 1493.8 L965.7 1496.3 L967.4 1498.7 L969.0 1501.3 L970.5 1503.8 L972.0 1506.4 L973.4 1509.1 L974.8 1511.7 L976.1 1514.4 L977.4 1517.1 L978.6 1519.9 L979.7 1522.6 L980.8 1525.4 L981.8 1528.2 L982.8 1531.0 L983.7 1533.8 L984.5 1536.6 L985.2 1539.5 L985.8 1542.3 L986.2 1545.2 L986.5 1548.1 L986.8 1551.0 L986.9 1554.1 L987.2 1557.3" fill="none" stroke="#1a1a1a" stroke-width="1.7" /><path d="M989.3 971.6 L989.1 974.8 L989.0 977.9 L988.9 980.9 L988.7 983.9 L988.5 986.8 L988.4 989.8 L988.2 992.7 L988.0 995.7 L987.7 998.7 L987.5 1001.7 L987.2 1004.7 L986.9 1007.8 L986.6 1010.8 L986.3 1013.8 L985.9 1016.9 L985.5 1019.9 L985.0 1022.9 L984.5 1026.0 L983.9 1029.0 L983.3 1032.1 L982.5 1035.1 L981.8 1038.1 L980.9 1041.1 L979.9 1044.1 L978.8 1047.1 L977.6 1050.1 L976.3 1053.0 L974.9 1055.8 L973.3 1058.6 L971.6 1061.3 L969.8 1063.9 L968.0 1066.5 L966.0 1068.9 L964.0 1071.4 L961.9 1073.7 L959.8 1076.0 L957.6 1078.2 L955.3 1080.4 L953.0 1082.5 L950.7 1084.5 L948.3 1086.5 L945.8 1088.4 L943.3 1090.3 L940.7 1092.1 L938.1 1093.8 L935.4 1095.4 L932.7 1097.0 L929.9 1098.5 L927.2 1099.9 L924.4 1101.3 L921.6 1102.6 L918.8 1103.8 L916.0 1105.0 L913.1 1106.2 L910.3 1107.3 L907.5 1108.5 L904.6 1109.5 L901.7 1110.6 L898.9 1111.6 L896.0 1112.6 L893.1 1113.6 L890.2 1114.5 L887.3 1115.5 L884.4 1116.4 L881.5 1117.2 L878.6 1118.1 L875.7 1119.0 L872.8 1119.8 L869.9 1120.6 L867.0 1121.4 L864.1 1122.2 L861.2 1123.0 L858.3 1123.8 L855.4 1124.6 L852.5 1125.3 L849.6 1126.1 L846.6 1126.9 L843.7 1127.6 L840.8 1128.4 L837.9 1129.2 L835.0 1129.9 L832.1 1130.7 L829.2 1131.4 L826.3 1132.2 L823.5 1133.0 L820.6 1133.7 L817.7 1134.5 L814.9 1135.3 L812.0 1136.2 L809.2 1137.0 L806.3 1137.9 L803.5 1138.7 L800.7 1139.6 L797.8 1140.5 L795.0 1141.4 L792.2 1142.4 L789.3 1143.3 L786.5 1144.3 L783.7 1145.2 L780.9 1146.2 L778.1 1147.2 L775.3 1148.2 L772.5 1149.2 L769.7 1150.3 L766.9 1151.3 L764.1 1152.4 L761.4 1153.4 L758.6 1154.5 L755.8 1155.6 L753.0 1156.7 L750.3 1157.8 L747.5 1158.9 L744.7 1160.0 L742.0 1161.2 L739.2 1162.3 L736.5 1163.5 L733.8 1164.6 L731.1 1165.8 L728.4 1167.0 L725.7 1168.2 L723.0 1169.5 L720.4 1170.8 L717.8 1172.1 L715.2 1173.4 L712.7 1174.8 L710.2 1176.2 L707.7 1177.7 L705.2 1179.2 L702.8 1180.8 L700.4 1182.4 L698.1 1184.0 L695.8 1185.7 L693.5 1187.5 L691.3 1189.3 L689.1 1191.2 L686.9 1193.1 L684.8 1195.0 L682.7 1197.0 L680.7 1199.0 L678.7 1201.1 L676.8 1203.2 L674.9 1205.4 L673.1 1207.6 L671.3 1209.8 L669.6 1212.1 L667.9 1214.4 L666.3 1216.7 L664.8 1219.1 L663.4 1221.5 L662.0 1224.0 L660.7 1226.5 L659.4 1229.0 L658.3 1231.6 L657.2 1234.1 L656.3 1236.7 L655.4 1239.4 L654.6 1242.0 L654.0 1244.7 L653.4 1247.4 L653.0 1250.1 L652.6 1252.8 L652.4 1255.6 L652.2 1258.4 L652.1 1261.2 L652.1 1264.0 L652.2 1266.9 L652.4 1269.8 L652.6 1272.6 L652.8 1275.5 L653.1 1278.4 L653.5 1281.3 L653.9 1284.1 L654.3 1286.9 L654.9 1289.7 L655.5 1292.5 L656.1 1295.3 L656.9 1298.0 L657.7 1300.7 L658.6 1303.3 L659.6 1305.9 L660.7 1308.5 L661.8 1311.0 L663.1 1313.5 L664.4 1315.9 L665.8 1318.3 L667.3 1320.6 L668.9 1322.9 L670.6 1325.0 L672.3 1327.2 L674.2 1329.2 L676.1 1331.2 L678.1 1333.0 L680.1 1334.8 L682.3 1336.6 L684.5 1338.2 L686.8 1339.8 L689.2 1341.4 L691.6 1342.8 L694.1 1344.3 L696.6 1345.6 L699.1 1347.0 L701.7 1348.3 L704.4 1349.6 L707.0 1350.8 L709.7 1352.1 L712.4 1353.3 L715.1 1354.5 L717.8 1355.6 L720.5 1356.8 L723.3 1357.9 L726.0 1359.0 L728.8 1360.1 L731.6 1361.2 L734.4 1362.3 L737.1 1363.4 L739.9 1364.5 L742.7 1365.6 L745.5 1366.7 L748.3 1367.8 L751.1 1369.0 L753.9 1370.1 L756.7 1371.2 L759.5 1372.3 L762.3 1373.4 L765.1 1374.5 L767.8 1375.6 L770.6 1376.7 L773.4 1377.9 L776.2 1379.0 L779.0 1380.1 L781.8 1381.2 L784.6 1382.3 L787.3 1383.5 L790.1 1384.6 L792.9 1385.7 L795.7 1386.8 L798.5 1388.0 L801.3 1389.1 L804.0 1390.2 L806.8 1391.3 L809.6 1392.5 L812.4 1393.6 L815.2 1394.7 L817.9 1395.9 L820.7 1397.0 L823.5 1398.2 L826.3 1399.3 L829.1 1400.5 L831.8 1401.6 L834.6 1402.8 L837.4 1404.0 L840.2 1405.2 L843.0 1406.4 L845.7 1407.6 L848.5 1408.8 L851.2 1410.0 L854.0 1411.3 L856.8 1412.6 L859.5 1413.8 L862.2 1415.1 L865.0 1416.4 L867.7 1417.8 L870.4 1419.1 L873.1 1420.5 L875.8 1421.8 L878.5 1423.2 L881.2 1424.6 L883.9 1426.0 L886.6 1427.5 L889.2 1428.9 L891.9 1430.4 L894.5 1431.8 L897.2 1433.3 L899.8 1434.8 L902.4 1436.4 L905.0 1437.9 L907.6 1439.4 L910.2 1441.0 L912.8 1442.6 L915.4 1444.2 L918.0 1445.8 L920.5 1447.5 L923.1 1449.1 L925.6 1450.8 L928.1 1452.6 L930.6 1454.3 L933.1 1456.2 L935.6 1458.0 L938.0 1459.9 L940.4 1461.8 L942.8 1463.7 L945.2 1465.7 L947.5 1467.8 L949.8 1469.8 L952.0 1471.9 L954.3 1474.1 L956.4 1476.3 L958.6 1478.6 L960.7 1480.9 L962.7 1483.2 L964.7 1485.6 L966.6 1488.1 L968.5 1490.6 L970.3 1493.2 L972.0 1495.7 L973.7 1498.4 L975.3 1501.1 L976.8 1503.8 L978.3 1506.5 L979.7 1509.2 L981.1 1512.0 L982.4 1514.9 L983.6 1517.7 L984.8 1520.6 L985.9 1523.4 L987.0 1526.3 L988.0 1529.2 L989.0 1532.2 L989.8 1535.2 L990.6 1538.3 L991.2 1541.4 L991.6 1544.5 L992.0 1547.6 L992.2 1550.7 L992.4 1553.7 L992.7 1556.9" fill="none" stroke="#1a1a1a" stroke-width="1.4" /><path d="M992.1 971.7 L991.9 975.0 L991.8 978.1 L991.7 981.1 L991.5 984.0 L991.3 987.0 L991.2 990.0 L991.0 992.9 L990.8 995.9 L990.5 999.0 L990.3 1002.0 L990.0 1005.0 L989.7 1008.0 L989.4 1011.1 L989.0 1014.2 L988.6 1017.2 L988.2 1020.3 L987.7 1023.4 L987.2 1026.5 L986.6 1029.6 L986.0 1032.7 L985.3 1035.8 L984.5 1038.9 L983.6 1042.0 L982.6 1045.1 L981.4 1048.1 L980.2 1051.2 L978.8 1054.2 L977.3 1057.1 L975.7 1060.0 L974.0 1062.8 L972.1 1065.5 L970.2 1068.2 L968.2 1070.7 L966.1 1073.2 L964.0 1075.6 L961.8 1077.9 L959.6 1080.2 L957.3 1082.4 L954.9 1084.6 L952.5 1086.7 L950.0 1088.7 L947.5 1090.7 L944.9 1092.6 L942.2 1094.4 L939.6 1096.2 L936.8 1097.8 L934.1 1099.4 L931.3 1101.0 L928.4 1102.4 L925.6 1103.8 L922.8 1105.1 L919.9 1106.4 L917.1 1107.6 L914.2 1108.8 L911.3 1110.0 L908.5 1111.1 L905.6 1112.2 L902.7 1113.2 L899.8 1114.2 L896.9 1115.3 L894.0 1116.2 L891.1 1117.2 L888.2 1118.1 L885.2 1119.0 L882.3 1119.9 L879.4 1120.8 L876.5 1121.6 L873.6 1122.5 L870.6 1123.3 L867.7 1124.1 L864.8 1124.9 L861.9 1125.7 L859.0 1126.5 L856.1 1127.3 L853.2 1128.0 L850.3 1128.8 L847.4 1129.6 L844.4 1130.4 L841.5 1131.1 L838.6 1131.9 L835.7 1132.6 L832.8 1133.4 L829.9 1134.1 L827.1 1134.9 L824.2 1135.7 L821.3 1136.4 L818.5 1137.2 L815.6 1138.0 L812.8 1138.9 L810.0 1139.7 L807.1 1140.5 L804.3 1141.4 L801.5 1142.3 L798.7 1143.2 L795.9 1144.1 L793.1 1145.0 L790.2 1146.0 L787.4 1146.9 L784.6 1147.9 L781.8 1148.9 L779.0 1149.8 L776.3 1150.8 L773.5 1151.9 L770.7 1152.9 L767.9 1153.9 L765.1 1155.0 L762.4 1156.0 L759.6 1157.1 L756.8 1158.2 L754.1 1159.3 L751.3 1160.4 L748.6 1161.5 L745.8 1162.6 L743.1 1163.8 L740.3 1164.9 L737.6 1166.0 L734.9 1167.2 L732.2 1168.4 L729.5 1169.6 L726.9 1170.8 L724.2 1172.0 L721.7 1173.3 L719.1 1174.6 L716.5 1175.9 L714.0 1177.2 L711.6 1178.6 L709.1 1180.1 L706.7 1181.6 L704.4 1183.1 L702.0 1184.7 L699.7 1186.3 L697.5 1188.0 L695.3 1189.7 L693.1 1191.5 L690.9 1193.3 L688.8 1195.1 L686.7 1197.0 L684.7 1199.0 L682.7 1201.0 L680.8 1203.0 L678.9 1205.1 L677.0 1207.2 L675.3 1209.3 L673.5 1211.5 L671.8 1213.7 L670.2 1216.0 L668.7 1218.3 L667.2 1220.6 L665.8 1222.9 L664.4 1225.3 L663.2 1227.8 L662.0 1230.2 L660.9 1232.7 L659.8 1235.2 L658.9 1237.7 L658.1 1240.2 L657.3 1242.7 L656.7 1245.3 L656.2 1247.9 L655.7 1250.5 L655.4 1253.1 L655.2 1255.8 L655.0 1258.5 L654.9 1261.2 L654.9 1264.0 L655.0 1266.8 L655.2 1269.6 L655.3 1272.4 L655.6 1275.3 L655.9 1278.1 L656.2 1280.9 L656.6 1283.7 L657.1 1286.4 L657.6 1289.2 L658.2 1291.9 L658.8 1294.6 L659.6 1297.2 L660.4 1299.8 L661.2 1302.4 L662.2 1304.9 L663.2 1307.3 L664.4 1309.8 L665.6 1312.2 L666.8 1314.5 L668.2 1316.8 L669.7 1319.0 L671.2 1321.2 L672.8 1323.3 L674.5 1325.3 L676.2 1327.3 L678.1 1329.2 L680.0 1331.0 L681.9 1332.7 L684.0 1334.4 L686.1 1336.0 L688.4 1337.5 L690.7 1339.0 L693.0 1340.4 L695.4 1341.8 L697.9 1343.2 L700.4 1344.5 L703.0 1345.8 L705.6 1347.1 L708.2 1348.3 L710.9 1349.5 L713.5 1350.7 L716.2 1351.9 L718.9 1353.0 L721.6 1354.2 L724.3 1355.3 L727.1 1356.4 L729.8 1357.5 L732.6 1358.6 L735.4 1359.7 L738.2 1360.8 L741.0 1361.9 L743.8 1363.0 L746.5 1364.1 L749.3 1365.2 L752.1 1366.4 L754.9 1367.5 L757.7 1368.6 L760.5 1369.7 L763.3 1370.8 L766.1 1371.9 L768.9 1373.0 L771.7 1374.2 L774.4 1375.3 L777.2 1376.4 L780.0 1377.5 L782.8 1378.6 L785.6 1379.7 L788.4 1380.9 L791.2 1382.0 L794.0 1383.1 L796.7 1384.2 L799.5 1385.4 L802.3 1386.5 L805.1 1387.6 L807.9 1388.8 L810.7 1389.9 L813.4 1391.0 L816.2 1392.2 L819.0 1393.3 L821.8 1394.4 L824.6 1395.6 L827.4 1396.7 L830.1 1397.9 L832.9 1399.1 L835.7 1400.2 L838.5 1401.4 L841.3 1402.6 L844.1 1403.8 L846.8 1405.0 L849.6 1406.3 L852.4 1407.5 L855.2 1408.8 L857.9 1410.0 L860.7 1411.3 L863.4 1412.6 L866.2 1413.9 L868.9 1415.3 L871.6 1416.6 L874.4 1418.0 L877.1 1419.3 L879.8 1420.7 L882.5 1422.1 L885.2 1423.6 L887.9 1425.0 L890.6 1426.5 L893.2 1427.9 L895.9 1429.4 L898.5 1430.9 L901.2 1432.4 L903.8 1433.9 L906.4 1435.5 L909.1 1437.0 L911.7 1438.6 L914.3 1440.2 L916.9 1441.8 L919.5 1443.4 L922.1 1445.1 L924.6 1446.8 L927.2 1448.5 L929.7 1450.3 L932.3 1452.1 L934.8 1453.9 L937.3 1455.8 L939.8 1457.7 L942.2 1459.6 L944.6 1461.6 L947.0 1463.6 L949.4 1465.7 L951.7 1467.8 L954.0 1469.9 L956.2 1472.1 L958.5 1474.4 L960.6 1476.7 L962.8 1479.0 L964.8 1481.4 L966.9 1483.9 L968.8 1486.4 L970.7 1489.0 L972.6 1491.6 L974.4 1494.2 L976.1 1496.9 L977.7 1499.6 L979.3 1502.4 L980.8 1505.2 L982.2 1508.0 L983.6 1510.8 L984.9 1513.7 L986.2 1516.6 L987.4 1519.5 L988.5 1522.4 L989.6 1525.4 L990.7 1528.3 L991.6 1531.4 L992.5 1534.5 L993.3 1537.7 L993.9 1540.9 L994.4 1544.1 L994.8 1547.3 L995.0 1550.5 L995.2 1553.6 L995.4 1556.7" fill="none" stroke="#1a1a1a" stroke-width="1.4" /><path d="M997.8 972.0 L997.6 975.2 L997.5 978.3 L997.3 981.3 L997.2 984.3 L997.0 987.3 L996.9 990.3 L996.7 993.3 L996.4 996.4 L996.2 999.4 L995.9 1002.5 L995.7 1005.5 L995.4 1008.6 L995.0 1011.7 L994.7 1014.8 L994.3 1018.0 L993.9 1021.1 L993.4 1024.3 L992.8 1027.5 L992.2 1030.7 L991.6 1033.9 L990.8 1037.1 L990.0 1040.4 L989.0 1043.6 L988.0 1046.9 L986.8 1050.2 L985.4 1053.4 L984.0 1056.7 L982.3 1059.8 L980.6 1062.9 L978.8 1065.9 L976.8 1068.8 L974.8 1071.6 L972.6 1074.3 L970.5 1076.9 L968.2 1079.4 L965.9 1081.9 L963.6 1084.3 L961.2 1086.6 L958.7 1088.8 L956.2 1091.0 L953.6 1093.2 L950.9 1095.2 L948.2 1097.2 L945.4 1099.1 L942.6 1101.0 L939.7 1102.7 L936.8 1104.4 L933.9 1106.0 L931.0 1107.5 L928.1 1108.9 L925.1 1110.3 L922.2 1111.6 L919.3 1112.9 L916.3 1114.1 L913.4 1115.3 L910.5 1116.4 L907.6 1117.5 L904.6 1118.6 L901.7 1119.6 L898.8 1120.6 L895.8 1121.6 L892.8 1122.6 L889.9 1123.6 L886.9 1124.5 L884.0 1125.4 L881.0 1126.3 L878.0 1127.1 L875.1 1128.0 L872.2 1128.8 L869.2 1129.6 L866.3 1130.4 L863.4 1131.2 L860.5 1132.0 L857.6 1132.8 L854.7 1133.5 L851.7 1134.3 L848.8 1135.1 L845.9 1135.9 L843.0 1136.6 L840.1 1137.4 L837.2 1138.1 L834.3 1138.9 L831.4 1139.7 L828.5 1140.4 L825.7 1141.2 L822.8 1141.9 L820.0 1142.7 L817.2 1143.5 L814.4 1144.3 L811.6 1145.2 L808.8 1146.0 L806.0 1146.8 L803.2 1147.7 L800.4 1148.6 L797.6 1149.5 L794.8 1150.4 L792.1 1151.4 L789.3 1152.3 L786.5 1153.3 L783.7 1154.2 L781.0 1155.2 L778.2 1156.2 L775.4 1157.2 L772.7 1158.2 L769.9 1159.3 L767.2 1160.3 L764.4 1161.4 L761.7 1162.4 L758.9 1163.5 L756.2 1164.6 L753.4 1165.7 L750.7 1166.8 L748.0 1167.9 L745.2 1169.0 L742.5 1170.1 L739.8 1171.3 L737.2 1172.4 L734.5 1173.6 L731.9 1174.8 L729.3 1176.0 L726.7 1177.2 L724.2 1178.4 L721.7 1179.6 L719.2 1180.9 L716.8 1182.2 L714.4 1183.6 L712.1 1185.0 L709.8 1186.4 L707.5 1187.8 L705.3 1189.4 L703.1 1190.9 L700.9 1192.5 L698.8 1194.2 L696.7 1195.9 L694.6 1197.6 L692.6 1199.4 L690.6 1201.2 L688.7 1203.1 L686.8 1205.0 L684.9 1206.9 L683.1 1208.9 L681.4 1210.9 L679.7 1212.9 L678.0 1215.0 L676.4 1217.1 L674.9 1219.2 L673.5 1221.4 L672.1 1223.6 L670.7 1225.8 L669.4 1228.1 L668.2 1230.3 L667.1 1232.6 L666.1 1234.9 L665.1 1237.3 L664.3 1239.6 L663.5 1241.9 L662.8 1244.2 L662.2 1246.6 L661.8 1248.9 L661.4 1251.3 L661.1 1253.7 L660.8 1256.2 L660.7 1258.7 L660.6 1261.3 L660.6 1263.9 L660.7 1266.6 L660.8 1269.3 L661.0 1272.0 L661.3 1274.7 L661.5 1277.4 L661.9 1280.1 L662.3 1282.8 L662.7 1285.5 L663.2 1288.1 L663.7 1290.6 L664.4 1293.1 L665.0 1295.6 L665.8 1298.0 L666.6 1300.4 L667.5 1302.8 L668.5 1305.1 L669.5 1307.3 L670.6 1309.5 L671.8 1311.7 L673.1 1313.8 L674.4 1315.8 L675.8 1317.8 L677.3 1319.8 L678.8 1321.6 L680.4 1323.4 L682.1 1325.1 L683.8 1326.7 L685.6 1328.3 L687.5 1329.9 L689.5 1331.3 L691.5 1332.8 L693.7 1334.2 L695.9 1335.5 L698.2 1336.9 L700.6 1338.2 L703.0 1339.4 L705.5 1340.7 L708.1 1341.9 L710.6 1343.1 L713.2 1344.3 L715.8 1345.5 L718.5 1346.7 L721.1 1347.8 L723.8 1348.9 L726.5 1350.0 L729.2 1351.1 L732.0 1352.2 L734.7 1353.3 L737.5 1354.4 L740.3 1355.5 L743.0 1356.6 L745.8 1357.7 L748.6 1358.8 L751.4 1359.9 L754.2 1361.1 L757.0 1362.2 L759.8 1363.3 L762.6 1364.4 L765.4 1365.5 L768.2 1366.6 L771.0 1367.7 L773.8 1368.9 L776.6 1370.0 L779.4 1371.1 L782.1 1372.2 L784.9 1373.3 L787.7 1374.4 L790.5 1375.6 L793.3 1376.7 L796.1 1377.8 L798.9 1378.9 L801.7 1380.1 L804.5 1381.2 L807.2 1382.3 L810.0 1383.5 L812.8 1384.6 L815.6 1385.7 L818.4 1386.9 L821.2 1388.0 L824.0 1389.2 L826.7 1390.3 L829.5 1391.5 L832.3 1392.6 L835.1 1393.8 L837.9 1395.0 L840.7 1396.2 L843.5 1397.4 L846.3 1398.6 L849.1 1399.8 L851.9 1401.0 L854.7 1402.3 L857.5 1403.6 L860.3 1404.9 L863.1 1406.1 L865.9 1407.5 L868.7 1408.8 L871.4 1410.1 L874.2 1411.5 L876.9 1412.9 L879.7 1414.3 L882.4 1415.7 L885.2 1417.1 L887.9 1418.5 L890.6 1420.0 L893.3 1421.5 L896.0 1422.9 L898.7 1424.4 L901.4 1426.0 L904.0 1427.5 L906.7 1429.0 L909.3 1430.6 L912.0 1432.1 L914.6 1433.7 L917.3 1435.3 L919.9 1437.0 L922.5 1438.6 L925.2 1440.3 L927.8 1442.1 L930.4 1443.8 L933.0 1445.6 L935.6 1447.4 L938.2 1449.3 L940.7 1451.2 L943.3 1453.2 L945.8 1455.2 L948.3 1457.2 L950.7 1459.3 L953.1 1461.4 L955.5 1463.6 L957.9 1465.8 L960.2 1468.1 L962.5 1470.4 L964.8 1472.8 L967.0 1475.2 L969.2 1477.7 L971.3 1480.3 L973.4 1482.9 L975.4 1485.6 L977.3 1488.3 L979.1 1491.1 L980.9 1493.9 L982.6 1496.8 L984.3 1499.6 L985.8 1502.5 L987.3 1505.4 L988.8 1508.4 L990.1 1511.4 L991.5 1514.4 L992.7 1517.4 L993.8 1520.4 L995.0 1523.4 L996.1 1526.5 L997.1 1529.7 L998.0 1533.1 L998.9 1536.5 L999.5 1539.9 L1000.1 1543.3 L1000.5 1546.7 L1000.7 1550.1 L1000.9 1553.2 L1001.1 1556.3" fill="none" stroke="#1a1a1a" stroke-width="1.7" /><path d="M998.4 975.3 L998.3 978.4 L998.1 981.4 L998.0 984.4 L997.8 987.4 L997.7 990.4 L997.5 993.4 L997.2 996.4 L997.0 999.5 L996.7 1002.5 L996.5 1005.6 L996.2 1008.7 L995.8 1011.8 L995.5 1014.9 L995.1 1018.1 L994.7 1021.2 L994.2 1024.4 L993.6 1027.6 L993.0 1030.8 L992.3 1034.1 L999.1 1032.1 L999.7 1028.7 L1000.3 1025.4 L1000.8 1022.1 L1001.2 1018.9 L1001.6 1015.7 L1002.0 1012.5 L1002.3 1009.3 L1002.6 1006.2 L1002.9 1003.1 L1003.2 1000.0 L1003.4 996.9 L1003.6 993.8 L1003.8 990.8 L1004.0 987.7 L1004.2 984.7 L1004.3 981.7 L1004.5 978.6 L1004.6 975.6Z" fill="url(#hh)" stroke="#2a2a2a" stroke-width="1" /><path d="M1004.4 973C1006 990 1002 1010 996 1022C993 1028 992 1033 991.5 1036" fill="none" stroke="#2a2a2a" stroke-width="0.9" /><path d="M983.3 1496.4 L985.0 1499.2 L986.5 1502.1 L988.0 1505.1 L989.5 1508.1 L990.9 1511.1 L992.2 1514.1 L993.4 1517.1 L994.6 1520.1 L995.7 1523.1 L996.8 1526.3 L997.9 1529.5 L998.8 1532.9 L999.6 1536.3 L1000.3 1539.8 L1000.9 1543.2 L1001.3 1546.7 L1001.5 1550.0 L1001.7 1553.1 L1001.9 1556.2 L1008.1 1555.8 L1007.9 1552.7 L1007.7 1549.6 L1007.4 1546.1 L1007.0 1542.4 L1006.4 1538.7 L1005.7 1535.0 L1004.8 1531.3 L1003.8 1527.7 L1002.7 1524.3 L1001.6 1521.0 L1000.4 1517.9 L999.2 1514.8 L997.9 1511.7 L996.5 1508.5 L995.1 1505.4 L993.6 1502.3 L992.0 1499.3 L990.4 1496.2Z" fill="url(#hh)" stroke="#2a2a2a" stroke-width="1" /><line x1="982.9" y1="1557.3" x2="1009.5" y2="1557.3" stroke="#2a2a2a" stroke-width="1"/><path d="M1003 1508L1010 1545V1557" fill="none" stroke="#2a2a2a" stroke-width="0.9" /><path d="M979.5 968.5H1009M980 972H1009M979.5 968.5V972M1009 968.5V975" fill="none" stroke="#2a2a2a" stroke-width="0.9" /><circle cx="1011.8" cy="986.2" r="6" fill="none" stroke="#2a2a2a" stroke-width="1"/><path d="M1004 974V1000 M1007 975H1018V1010" fill="none" stroke="#2a2a2a" stroke-width="0.9" /><path d="M995.7 1084.4 L992.8 1085.7 L990.0 1086.9 L987.3 1088.1 L984.7 1089.4 L982.0 1090.6 L979.3 1091.9 L976.7 1093.3 L974.0 1094.6 L971.4 1096.1 L968.8 1097.5 L966.2 1099.0 L963.6 1100.5 L961.0 1102.1 L958.5 1103.7 L955.9 1105.3 L953.4 1106.9 L950.9 1108.5 L948.3 1110.1 L945.8 1111.8 L943.3 1113.4 L940.8 1115.0 L938.2 1116.6 L935.7 1118.2 L933.2 1119.8 L930.6 1121.4 L928.0 1122.9 L925.5 1124.5 L922.9 1126.0 L920.3 1127.6 L917.8 1129.1 L915.2 1130.6 L912.6 1132.2 L910.0 1133.7 L907.4 1135.2 L904.9 1136.8 L902.3 1138.3 L899.7 1139.8 L897.1 1141.4 L894.6 1142.9 L892.0 1144.5 L889.4 1146.0 L886.9 1147.6 L884.3 1149.2 L881.8 1150.7 L879.2 1152.3 L876.7 1153.9 L874.1 1155.5 L871.6 1157.1 L869.0 1158.6 L866.5 1160.2 L863.9 1161.8 L861.4 1163.5 L858.9 1165.1 L856.4 1166.8 L854.0 1168.5 L851.5 1170.2 L849.1 1172.0 L846.7 1173.9 L844.4 1175.7 L842.1 1177.7 L839.9 1179.7 L837.7 1181.7 L835.5 1183.8 L833.4 1185.9 L831.4 1188.1 L829.4 1190.3 L827.4 1192.6 L825.5 1194.9 L823.6 1197.2 L821.8 1199.6 L820.1 1202.0 L818.4 1204.5 L816.8 1207.1 L815.3 1209.6 L813.9 1212.3 L812.6 1214.9 L811.3 1217.7 L810.1 1220.4 L809.0 1223.2 L808.0 1226.0 L807.0 1228.8 L806.1 1231.7 L805.3 1234.6 L804.6 1237.5 L803.9 1240.4 L803.3 1243.3 L802.8 1246.3 L802.4 1249.2 L802.0 1252.2 L801.7 1255.2 L801.5 1258.1 L801.5 1261.1 L801.5 1264.1 L801.7 1267.0 L802.1 1270.0 L802.5 1272.9 L803.0 1275.9 L803.6 1278.8 L804.2 1281.8 L804.9 1284.7 L805.6 1287.6 L806.5 1290.4 L807.3 1293.3 L808.3 1296.1 L809.3 1299.0 L810.4 1301.8 L811.5 1304.6 L812.6 1307.3 L813.9 1310.0 L815.1 1312.8 L816.5 1315.4 L817.9 1318.1 L819.4 1320.6 L821.0 1323.2 L822.7 1325.7 L824.4 1328.1 L826.3 1330.4 L828.2 1332.6 L830.3 1334.8 L832.4 1336.9 L834.6 1339.0 L836.8 1341.0 L839.0 1343.0 L841.3 1344.9 L843.6 1346.8 L846.0 1348.7 L848.3 1350.6 L850.6 1352.5 L853.0 1354.3 L855.3 1356.2 L857.7 1358.1 L860.0 1359.9 L862.4 1361.8 L864.8 1363.6 L867.2 1365.4 L869.6 1367.2 L872.0 1368.9 L874.5 1370.7 L876.9 1372.4 L879.3 1374.2 L881.8 1375.9 L884.3 1377.6 L886.8 1379.3 L889.2 1381.0 L891.7 1382.6 L894.2 1384.3 L896.7 1386.0 L899.2 1387.6 L901.7 1389.3 L904.2 1391.0 L906.7 1392.6 L909.2 1394.3 L911.7 1395.9 L914.2 1397.6 L916.7 1399.2 L919.2 1400.9 L921.7 1402.6 L924.2 1404.3 L926.7 1405.9 L929.2 1407.6 L931.6 1409.3 L934.1 1411.0 L936.6 1412.7 L939.1 1414.4 L941.5 1416.1 L944.0 1417.8 L946.5 1419.5 L949.0 1421.2 L951.5 1422.8 L954.0 1424.5 L956.5 1426.1 L959.0 1427.8 L961.5 1429.4 L964.1 1430.9 L966.7 1432.5 L969.3 1433.9 L971.9 1435.3 L974.6 1436.7 L977.3 1437.9 L980.0 1439.1 L982.7 1440.2 L985.5 1441.2 L988.2 1442.1 L991.1 1443.0 L994.0 1443.8 L996.3 1444.5" fill="none" stroke="#2a2a2a" stroke-width="0.9" /><path d="M995.0 1082.9 L992.1 1084.3 L989.3 1085.5 L986.7 1086.7 L984.0 1087.9 L981.3 1089.2 L978.6 1090.5 L975.9 1091.8 L973.3 1093.2 L970.6 1094.7 L968.0 1096.1 L965.3 1097.6 L962.7 1099.2 L960.2 1100.7 L957.6 1102.3 L955.1 1103.9 L952.5 1105.5 L950.0 1107.2 L947.5 1108.8 L945.0 1110.4 L942.4 1112.0 L939.9 1113.6 L937.4 1115.2 L934.8 1116.8 L932.3 1118.4 L929.8 1120.0 L927.2 1121.6 L924.6 1123.1 L922.1 1124.7 L919.5 1126.2 L916.9 1127.7 L914.4 1129.3 L911.8 1130.8 L909.2 1132.3 L906.6 1133.9 L904.0 1135.4 L901.5 1136.9 L898.9 1138.5 L896.3 1140.0 L893.7 1141.6 L891.2 1143.1 L888.6 1144.7 L886.0 1146.2 L883.5 1147.8 L880.9 1149.4 L878.4 1150.9 L875.8 1152.5 L873.3 1154.1 L870.7 1155.7 L868.2 1157.3 L865.6 1158.9 L863.1 1160.5 L860.5 1162.1 L858.0 1163.8 L855.5 1165.5 L853.0 1167.2 L850.6 1168.9 L848.1 1170.8 L845.8 1172.6 L843.4 1174.5 L841.1 1176.5 L838.8 1178.5 L836.6 1180.5 L834.4 1182.6 L832.3 1184.8 L830.2 1187.0 L828.2 1189.2 L826.2 1191.5 L824.2 1193.9 L822.4 1196.2 L820.5 1198.7 L818.8 1201.1 L817.1 1203.7 L815.5 1206.2 L813.9 1208.9 L812.5 1211.5 L811.1 1214.2 L809.9 1217.0 L808.7 1219.8 L807.5 1222.6 L806.5 1225.5 L805.5 1228.3 L804.6 1231.2 L803.8 1234.1 L803.0 1237.1 L802.4 1240.0 L801.8 1243.0 L801.2 1246.0 L800.8 1249.0 L800.4 1252.0 L800.1 1255.0 L799.9 1258.1 L799.9 1261.1 L799.9 1264.1 L800.1 1267.2 L800.5 1270.2 L800.9 1273.2 L801.4 1276.2 L802.0 1279.1 L802.6 1282.1 L803.3 1285.1 L804.1 1288.0 L804.9 1290.9 L805.8 1293.8 L806.8 1296.7 L807.8 1299.5 L808.9 1302.4 L810.0 1305.2 L811.2 1307.9 L812.4 1310.7 L813.7 1313.5 L815.1 1316.2 L816.5 1318.8 L818.0 1321.5 L819.6 1324.1 L821.3 1326.6 L823.2 1329.0 L825.1 1331.4 L827.0 1333.7 L829.1 1335.9 L831.3 1338.1 L833.5 1340.2 L835.7 1342.2 L838.0 1344.2 L840.3 1346.1 L842.6 1348.1 L845.0 1349.9 L847.3 1351.8 L849.6 1353.7 L852.0 1355.6 L854.3 1357.5 L856.7 1359.3 L859.1 1361.2 L861.4 1363.0 L863.8 1364.9 L866.2 1366.7 L868.6 1368.5 L871.1 1370.2 L873.5 1372.0 L876.0 1373.7 L878.4 1375.5 L880.9 1377.2 L883.4 1378.9 L885.9 1380.6 L888.3 1382.3 L890.8 1384.0 L893.3 1385.6 L895.8 1387.3 L898.3 1389.0 L900.8 1390.6 L903.3 1392.3 L905.8 1393.9 L908.3 1395.6 L910.8 1397.3 L913.3 1398.9 L915.8 1400.6 L918.3 1402.2 L920.8 1403.9 L923.3 1405.6 L925.8 1407.3 L928.2 1408.9 L930.7 1410.6 L933.2 1412.3 L935.7 1414.0 L938.1 1415.7 L940.6 1417.4 L943.1 1419.1 L945.6 1420.8 L948.1 1422.5 L950.6 1424.2 L953.1 1425.8 L955.6 1427.5 L958.1 1429.1 L960.7 1430.7 L963.3 1432.3 L965.9 1433.8 L968.5 1435.3 L971.2 1436.7 L973.9 1438.1 L976.6 1439.4 L979.4 1440.6 L982.2 1441.7 L985.0 1442.8 L987.8 1443.7 L990.6 1444.5 L993.5 1445.3 L995.8 1446.0" fill="none" stroke="#2a2a2a" stroke-width="0.9" /><path d="M969 1095L996 1082L997 1086L971 1099Z" fill="url(#dh)" stroke="#2a2a2a" stroke-width="0.9" /><line x1="979.0" y1="1081.0" x2="988.0" y2="1106.0" stroke="#2a2a2a" stroke-width="0.8" stroke-dasharray="4 2 1 2"/><path d="M969.9 1432L996 1442L995 1446L969 1436Z" fill="url(#dh)" stroke="#2a2a2a" stroke-width="0.9" /><line x1="976.0" y1="1452.0" x2="986.0" y2="1424.0" stroke="#2a2a2a" stroke-width="0.8" stroke-dasharray="4 2 1 2"/><path d="M996 1084C1003 1080 1005 1072 1004.6 1060V1030C1004.6 1026 1002 1024 998.8 1023.3H1028.5V1027.2H1009C1007 1027.2 1006.5 1029 1006.5 1031V1129.3H1004.6" fill="none" stroke="#2a2a2a" stroke-width="0.9" /><path d="M1000 1040C1002 1030 1003 1026 1004.6 1024" fill="none" stroke="#2a2a2a" stroke-width="0.8" /><rect x="1006.5" y="1086.0" width="25.9" height="68.5" fill="none" stroke="#2a2a2a" stroke-width="0.9"/><rect x="1012.3" y="1091.8" width="14.9" height="57.5" fill="none" stroke="#2a2a2a" stroke-width="0.9"/><path d="M1032.4 1064H1059.5V1163H1032.4ZM1032.4 1064L1059.5 1163" fill="none" stroke="#2a2a2a" stroke-width="0.9" /><line x1="1016.2" y1="1015.0" x2="1016.2" y2="1048.0" stroke="#2a2a2a" stroke-width="0.9" stroke-dasharray="10 3 2 3"/><line x1="1077.0" y1="975.0" x2="1077.0" y2="1000.0" stroke="#2a2a2a" stroke-width="0.9" stroke-dasharray="10 3 2 3"/><line x1="1066.0" y1="1091.2" x2="1125.0" y2="1091.2" stroke="#555" stroke-width="0.9" stroke-dasharray="20 10"/><line x1="1066.0" y1="1135.8" x2="1125.0" y2="1135.8" stroke="#555" stroke-width="0.9" stroke-dasharray="20 10"/><line x1="1018.0" y1="1106.7" x2="1055.0" y2="1106.7" stroke="#2a2a2a" stroke-width="0.9" stroke-dasharray="10 3 2 3"/><line x1="1018.0" y1="1142.2" x2="1055.0" y2="1142.2" stroke="#2a2a2a" stroke-width="0.9" stroke-dasharray="10 3 2 3"/><line x1="990.0" y1="1095.0" x2="1025.0" y2="1095.0" stroke="#2a2a2a" stroke-width="0.9" stroke-dasharray="10 3 2 3"/><line x1="990.0" y1="1116.4" x2="1025.0" y2="1116.4" stroke="#2a2a2a" stroke-width="0.9" stroke-dasharray="10 3 2 3"/><rect x="1005.8" y="1366.0" width="101.7" height="25.1" fill="none" stroke="#2a2a2a" stroke-width="0.9"/><path d="M1022.3 1366L1096.3 1391.1M1096.3 1366L1022.3 1391.1" fill="none" stroke="#2a2a2a" stroke-width="0.9" /><ellipse cx="1016.5" cy="1378.5" rx="4.5" ry="12.5" fill="none" stroke="#2a2a2a" stroke-width="0.9"/><ellipse cx="1090" cy="1378.5" rx="4.5" ry="12.5" fill="none" stroke="#2a2a2a" stroke-width="0.9"/><path d="M1005.8 1391.1H1108.6V1463.4H1100.8V1404.5H1025.2V1455.8H1005.8Z" fill="none" stroke="#2a2a2a" stroke-width="1" /><rect x="1010.1" y="1394.4" width="13.5" height="57.6" fill="none" stroke="#2a2a2a" stroke-width="0.9"/><rect x="1026.0" y="1394.0" width="26.0" height="7.0" fill="none" stroke="#2a2a2a" stroke-width="0.8"/><rect x="1076.0" y="1394.0" width="19.0" height="7.0" fill="none" stroke="#2a2a2a" stroke-width="0.8"/><path d="M1056 1396L1059 1393H1067L1070 1396V1399L1067 1402H1059L1056 1399Z" fill="none" stroke="#2a2a2a" stroke-width="0.8" /><rect x="1032.3" y="1421.1" width="66.4" height="69.3" fill="none" stroke="#2a2a2a" stroke-width="1"/><line x1="1048.1" y1="1421.1" x2="1048.1" y2="1490.4" stroke="#2a2a2a" stroke-width="1"/><line x1="1050.0" y1="1427.0" x2="1050.0" y2="1489.0" stroke="#2a2a2a" stroke-width="0.8"/><line x1="1081.0" y1="1421.1" x2="1081.0" y2="1490.4" stroke="#2a2a2a" stroke-width="1"/><line x1="1079.0" y1="1427.0" x2="1079.0" y2="1489.0" stroke="#2a2a2a" stroke-width="0.8"/><line x1="1034.5" y1="1427.0" x2="1096.5" y2="1427.0" stroke="#2a2a2a" stroke-width="0.8"/><line x1="1034.5" y1="1489.0" x2="1096.5" y2="1489.0" stroke="#2a2a2a" stroke-width="0.8"/><path d="M1002.3 1398.8V1499.2C1002.3 1502 1004 1503.4 1008 1503.4H1027.6V1508.6H1008C1004 1508.6 1000 1512 999 1516" fill="none" stroke="#2a2a2a" stroke-width="0.9" /><line x1="1005.8" y1="1398.8" x2="1005.8" y2="1499.0" stroke="#2a2a2a" stroke-width="0.8"/><path d="M1032.3 1497H1108.6V1547.4M1040 1510.4H1106" fill="none" stroke="#2a2a2a" stroke-width="0.9" /><rect x="1071.6" y="1518.6" width="34.1" height="28.2" fill="none" stroke="#2a2a2a" stroke-width="0.9"/><rect x="1074.0" y="1512.0" width="27.0" height="6.6" fill="none" stroke="#2a2a2a" stroke-width="0.8"/><rect x="1040.0" y="1513.0" width="30.0" height="22.0" fill="none" stroke="#2a2a2a" stroke-width="0.9"/><path d="M1047 1519L1050 1516H1060L1063 1519V1524L1060 1527H1050L1047 1524Z" fill="none" stroke="#2a2a2a" stroke-width="0.8" /><rect x="1045" y="1532" width="25" height="3" fill="url(#vh)" stroke="#333" stroke-width="0.6"/><line x1="1032.3" y1="1536.0" x2="1032.3" y2="1663.0" stroke="#2a2a2a" stroke-width="0.9"/><line x1="1036.9" y1="1536.0" x2="1036.9" y2="1663.0" stroke="#2a2a2a" stroke-width="0.9"/><line x1="1047.5" y1="1536.0" x2="1047.5" y2="1663.0" stroke="#2a2a2a" stroke-width="0.9"/><line x1="1053.3" y1="1536.0" x2="1053.3" y2="1663.0" stroke="#2a2a2a" stroke-width="0.9"/><line x1="1064.6" y1="1536.0" x2="1064.6" y2="1663.0" stroke="#2a2a2a" stroke-width="0.9"/><line x1="1070.4" y1="1536.0" x2="1070.4" y2="1663.0" stroke="#2a2a2a" stroke-width="0.9"/><line x1="1074.6" y1="1536.0" x2="1074.6" y2="1663.0" stroke="#2a2a2a" stroke-width="0.9"/><line x1="1107.6" y1="1536.0" x2="1107.6" y2="1663.0" stroke="#2a2a2a" stroke-width="0.9"/><rect x="1032.0" y="1510.0" width="8.0" height="30.0" fill="none" stroke="#2a2a2a" stroke-width="0.8"/><path d="M983.4 1663V1574.8H1009.2C1013 1582 1025 1582 1031.6 1576.3" fill="none" stroke="#2a2a2a" stroke-width="0.9" /><line x1="997.4" y1="1574.8" x2="997.4" y2="1663.0" stroke="#2a2a2a" stroke-width="0.9"/><line x1="1002.2" y1="1574.8" x2="1002.2" y2="1663.0" stroke="#2a2a2a" stroke-width="0.9"/><line x1="1009.2" y1="1574.8" x2="1009.2" y2="1663.0" stroke="#2a2a2a" stroke-width="0.9"/><circle cx="1036.0" cy="1452.0" r="2.2" fill="#555" stroke="#2a2a2a" stroke-width="1.2"/><circle cx="1100.0" cy="1455.0" r="2.2" fill="#555" stroke="#2a2a2a" stroke-width="1.2"/><circle cx="1046.0" cy="1493.0" r="2.2" fill="#555" stroke="#2a2a2a" stroke-width="1.2"/><circle cx="1096.0" cy="1493.0" r="2.2" fill="#555" stroke="#2a2a2a" stroke-width="1.2"/><circle cx="1030.0" cy="1527.0" r="2.2" fill="#555" stroke="#2a2a2a" stroke-width="1.2"/><circle cx="1060.0" cy="1537.0" r="2.2" fill="#555" stroke="#2a2a2a" stroke-width="1.2"/><circle cx="1089.0" cy="1540.0" r="2.2" fill="#555" stroke="#2a2a2a" stroke-width="1.2"/><line x1="1038.1" y1="1360.0" x2="1038.1" y2="1410.0" stroke="#2a2a2a" stroke-width="0.9" stroke-dasharray="10 3 2 3"/><line x1="1016.0" y1="1480.0" x2="1016.0" y2="1520.0" stroke="#2a2a2a" stroke-width="0.9" stroke-dasharray="10 3 2 3"/><line x1="990.0" y1="1414.0" x2="1025.0" y2="1414.0" stroke="#2a2a2a" stroke-width="0.9" stroke-dasharray="10 3 2 3"/><line x1="990.0" y1="1434.0" x2="1025.0" y2="1434.0" stroke="#2a2a2a" stroke-width="0.9" stroke-dasharray="10 3 2 3"/><line x1="880.6" y1="1366.0" x2="880.6" y2="1663.0" stroke="#2a2a2a" stroke-width="1" stroke-dasharray="4 2.5"/><line x1="645.8" y1="1230.0" x2="645.8" y2="1663.0" stroke="#2a2a2a" stroke-width="1"/><line x1="643.8" y1="1232.7" x2="882.6" y2="1232.7" stroke="#2a2a2a" stroke-width="1"/><text class="lb" x="740.6" y="1221.0" text-anchor="middle" font-size="10" >10½"</text><text class="lb" x="1106.3" y="834.3" text-anchor="middle" font-size="14" >20</text><text class="lb" x="1178.0" y="834.3" text-anchor="middle" font-size="14" >21</text><text class="lb" x="1222.9" y="834.3" text-anchor="middle" font-size="14" >24</text><text class="lb" x="1425.7" y="820.6" text-anchor="middle" font-size="14" >19</text><text class="lb" x="1320.0" y="898.6" text-anchor="middle" font-size="14" >23</text><text class="lb" x="1274.0" y="1194.9" text-anchor="middle" font-size="14" >25</text><text class="lb" x="1319.7" y="1194.9" text-anchor="middle" font-size="14" >22</text><text class="lb" x="1373.2" y="1194.9" text-anchor="middle" font-size="14" >17</text><text class="lb" x="755.7" y="1197.5" text-anchor="middle" font-size="14" >11</text><text class="lb" x="755.7" y="1314.6" text-anchor="middle" font-size="14" >12</text><text class="lb" x="808.5" y="1419.6" text-anchor="middle" font-size="14" >14</text><text class="lb" x="704.0" y="1455.5" text-anchor="middle" font-size="14" >29</text><text class="lb" x="808.5" y="1477.6" text-anchor="middle" font-size="14" >28</text><text class="lb" x="928.0" y="1526.3" text-anchor="middle" font-size="14" >7</text><text class="lb" x="924.3" y="1568.7" text-anchor="middle" font-size="14" >30</text><text class="lb" x="924.3" y="1611.3" text-anchor="middle" font-size="14" >29</text><text class="lb" x="1238.5" y="1427.6" text-anchor="middle" font-size="14" >26</text><text class="lb" x="1154.0" y="1384.7" text-anchor="start" font-size="14" >9</text><text class="lb" x="1154.0" y="1431.6" text-anchor="start" font-size="14" >27</text><text class="lb" x="1154.0" y="1501.0" text-anchor="start" font-size="14" >8</text><text class="lb" x="1154.0" y="1545.6" text-anchor="start" font-size="14" >5</text><line x1="1104.3" y1="843.4" x2="1104.3" y2="932.9" stroke="#2a2a2a" stroke-width="0.9"/><line x1="1178.0" y1="843.4" x2="1178.0" y2="1035.0" stroke="#2a2a2a" stroke-width="0.9"/><line x1="1222.9" y1="843.4" x2="1222.9" y2="1028.0" stroke="#2a2a2a" stroke-width="0.9"/><line x1="1322.9" y1="908.6" x2="1322.9" y2="967.1" stroke="#2a2a2a" stroke-width="0.9"/><line x1="1274.0" y1="1021.6" x2="1274.0" y2="1179.0" stroke="#2a2a2a" stroke-width="0.9"/><line x1="1324.5" y1="1110.0" x2="1324.5" y2="1163.7" stroke="#2a2a2a" stroke-width="0.9"/><line x1="1376.5" y1="1067.0" x2="1376.5" y2="1179.0" stroke="#2a2a2a" stroke-width="0.9"/><line x1="1238.5" y1="1366.0" x2="1238.5" y2="1405.0" stroke="#2a2a2a" stroke-width="0.9"/><line x1="1265.0" y1="817.1" x2="1403.7" y2="817.1" stroke="#2a2a2a" stroke-width="0.9"/><line x1="770.7" y1="1192.5" x2="878.8" y2="1192.5" stroke="#2a2a2a" stroke-width="0.9"/><line x1="770.7" y1="1311.0" x2="812.0" y2="1311.0" stroke="#2a2a2a" stroke-width="0.9"/><line x1="824.4" y1="1416.5" x2="870.7" y2="1416.5" stroke="#2a2a2a" stroke-width="0.9"/><line x1="646.0" y1="1450.5" x2="688.0" y2="1450.5" stroke="#2a2a2a" stroke-width="0.9"/><line x1="824.4" y1="1473.0" x2="880.6" y2="1473.0" stroke="#2a2a2a" stroke-width="0.9"/><line x1="939.2" y1="1522.3" x2="997.4" y2="1522.3" stroke="#2a2a2a" stroke-width="0.9"/><line x1="939.2" y1="1566.4" x2="1025.5" y2="1566.4" stroke="#2a2a2a" stroke-width="0.9"/><line x1="939.2" y1="1610.5" x2="982.1" y2="1610.5" stroke="#2a2a2a" stroke-width="0.9"/><line x1="1107.5" y1="1381.7" x2="1147.0" y2="1381.7" stroke="#2a2a2a" stroke-width="0.9"/><line x1="1107.5" y1="1427.6" x2="1147.0" y2="1427.6" stroke="#2a2a2a" stroke-width="0.9"/><line x1="1108.6" y1="1498.0" x2="1147.0" y2="1498.0" stroke="#2a2a2a" stroke-width="0.9"/><line x1="1107.6" y1="1541.6" x2="1147.0" y2="1541.6" stroke="#2a2a2a" stroke-width="0.9"/><line x1="995.3" y1="1498.0" x2="1108.6" y2="1498.0" stroke="#2a2a2a" stroke-width="0.9"/>
</svg></body></html>
